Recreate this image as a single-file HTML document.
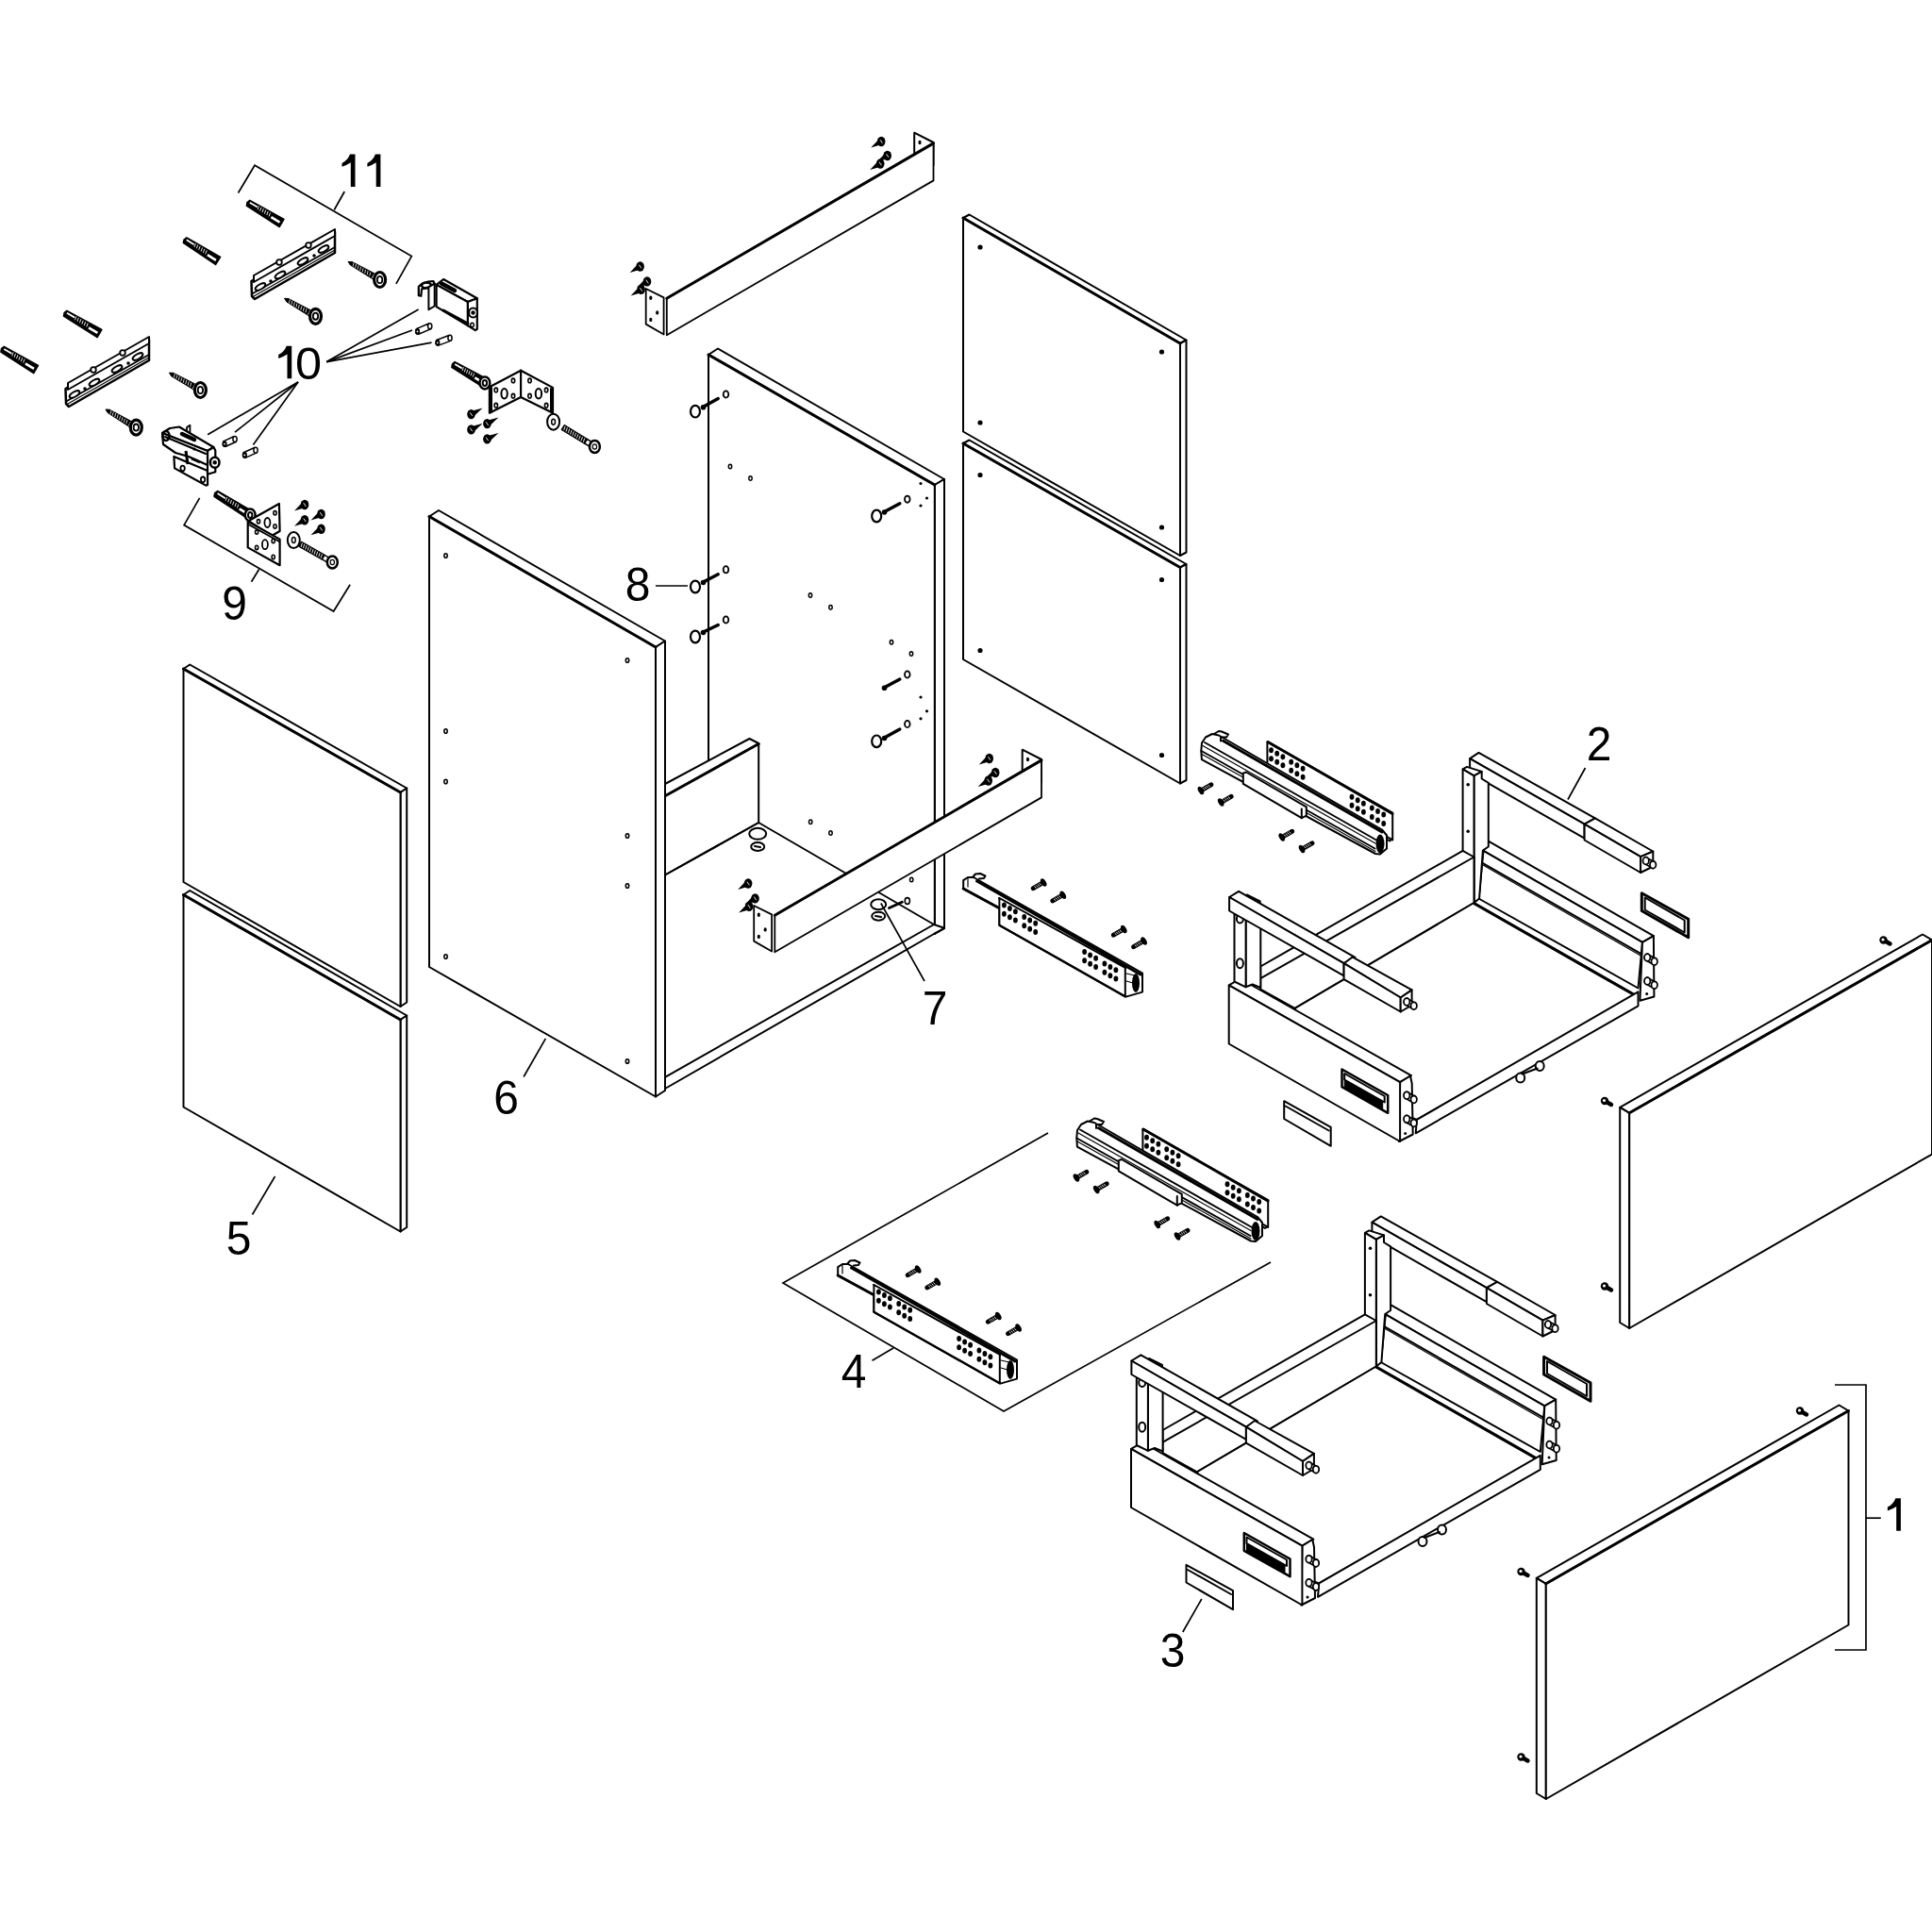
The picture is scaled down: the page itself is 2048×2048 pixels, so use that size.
<!DOCTYPE html>
<html><head><meta charset="utf-8"><style>
html,body{margin:0;padding:0;background:#fff;width:2048px;height:2048px;overflow:hidden}
svg{display:block}
.l{stroke:#000;stroke-width:2;fill:none;stroke-linejoin:round;stroke-linecap:round}
.l1{stroke:#000;stroke-width:1.2;fill:none;stroke-linecap:round}
.ld{stroke:#000;stroke-width:1.7;fill:none;stroke-linecap:butt}
.l3{stroke:#000;stroke-width:3;fill:none;stroke-linecap:round}
.f{fill:#fff;stroke:#000;stroke-width:2;stroke-linejoin:round}
.k{fill:#000;stroke:#000;stroke-width:1}
text{font-family:"Liberation Sans",sans-serif;font-size:50.5px;fill:#000}
</style></head><body>
<svg width="2048" height="2048" viewBox="0 0 2048 2048">
<polygon class="f" points="194.5,709.0 201.2,704.5 431.2,835.5 424.5,840.0" /><polygon class="f" points="424.5,840.0 431.2,835.5 431.2,1062.5 424.5,1067.0" /><polygon class="f" points="194.5,709.0 424.5,840.0 424.5,1067.0 194.5,935.0" /><line class="l3" x1="194.5" y1="709.0" x2="424.5" y2="840.0" />
<polygon class="f" points="194.5,948.5 201.2,944.0 431.2,1076.5 424.5,1081.0" /><polygon class="f" points="424.5,1081.0 431.2,1076.5 431.2,1301.0 424.5,1305.5" /><polygon class="f" points="194.5,948.5 424.5,1081.0 424.5,1305.5 194.5,1173.5" /><line class="l3" x1="194.5" y1="948.5" x2="424.5" y2="1081.0" />
<polygon class="f" points="1021.0,231.0 1027.5,227.5 1257.5,360.5 1251.0,364.0" /><polygon class="f" points="1251.0,364.0 1257.5,360.5 1257.5,585.5 1251.0,589.0" /><polygon class="f" points="1021.0,231.0 1251.0,364.0 1251.0,589.0 1021.0,457.5" /><line class="l3" x1="1021.0" y1="231.0" x2="1251.0" y2="364.0" />
<polygon class="f" points="1021.0,470.0 1027.5,466.5 1257.5,598.0 1251.0,601.5" /><polygon class="f" points="1251.0,601.5 1257.5,598.0 1257.5,827.0 1251.0,830.5" /><polygon class="f" points="1021.0,470.0 1251.0,601.5 1251.0,830.5 1021.0,699.0" /><line class="l3" x1="1021.0" y1="470.0" x2="1251.0" y2="601.5" />
<circle cx="1039.0" cy="262.0" r="2.6" fill="#000"/>
<circle cx="1039.0" cy="503.5" r="2.6" fill="#000"/>
<circle cx="1231.5" cy="373.0" r="2.6" fill="#000"/>
<circle cx="1231.5" cy="614.5" r="2.6" fill="#000"/>
<circle cx="1039.0" cy="448.0" r="2.6" fill="#000"/>
<circle cx="1039.0" cy="689.5" r="2.6" fill="#000"/>
<circle cx="1231.5" cy="559.0" r="2.6" fill="#000"/>
<circle cx="1231.5" cy="800.5" r="2.6" fill="#000"/>
<polygon class="f" points="751.0,376.0 761.0,369.5 1001.0,508.0 990.8,514.0" />
<polygon class="f" points="990.8,514.0 1001.0,508.0 1001.0,984.0 990.8,990.0" />
<polygon class="f" points="751.0,376.0 990.8,514.0 990.8,990.0 751.0,842.0" style="stroke:none"/>
<polyline class="l" points="751.0,842.0 751.0,376.0 990.8,514.0 990.8,990.0" />
<line class="l3" x1="751.0" y1="376.0" x2="990.8" y2="514.0" />
<polygon class="f" points="705.0,831.0 794.5,783.0 804.2,788.0 804.2,872.0 705.0,927.5" />
<line class="l3" x1="705.0" y1="843.8" x2="804.2" y2="788.5" />
<polyline class="l" points="705.0,927.5 804.2,872.0 990.0,980.0" />
<polygon class="f" points="705.0,1141.8 990.0,980.0 1001.0,983.8 1001.0,984.0 990.0,990.0 705.0,1154.0" />
<polygon class="f" points="455.0,547.5 465.0,541.0 705.0,679.5 695.0,686.0" /><polygon class="f" points="695.0,686.0 705.0,679.5 705.0,1156.0 695.0,1162.5" /><polygon class="f" points="455.0,547.5 695.0,686.0 695.0,1162.5 455.0,1025.0" /><line class="l3" x1="455.0" y1="547.5" x2="695.0" y2="686.0" />
<ellipse class="l" cx="737.0" cy="436.2" rx="5.0" ry="6.3" style="stroke-width:2.2"/>
<ellipse class="l" cx="737.0" cy="622.0" rx="5.0" ry="6.3" style="stroke-width:2.2"/>
<ellipse class="l" cx="737.0" cy="675.0" rx="5.0" ry="6.3" style="stroke-width:2.2"/>
<ellipse class="l" cx="929.2" cy="547.0" rx="5.0" ry="6.3" style="stroke-width:2.2"/>
<ellipse class="l" cx="929.2" cy="785.8" rx="5.0" ry="6.3" style="stroke-width:2.2"/>
<line x1="745.5" y1="431.2" x2="761.2" y2="422.5" stroke="#000" stroke-width="3.5" stroke-linecap="round"/>
<circle cx="745.5" cy="431.8" r="2.8" fill="#000"/>
<line x1="745.5" y1="617.0" x2="761.2" y2="608.8" stroke="#000" stroke-width="3.5" stroke-linecap="round"/>
<circle cx="745.5" cy="617.5" r="2.8" fill="#000"/>
<line x1="745.5" y1="670.0" x2="761.2" y2="662.5" stroke="#000" stroke-width="3.5" stroke-linecap="round"/>
<circle cx="745.5" cy="670.5" r="2.8" fill="#000"/>
<line x1="937.5" y1="542.5" x2="953.8" y2="533.8" stroke="#000" stroke-width="3.5" stroke-linecap="round"/>
<circle cx="937.5" cy="543.0" r="2.8" fill="#000"/>
<line x1="937.5" y1="728.8" x2="953.8" y2="720.0" stroke="#000" stroke-width="3.5" stroke-linecap="round"/>
<circle cx="937.5" cy="729.2" r="2.8" fill="#000"/>
<line x1="937.5" y1="782.0" x2="953.8" y2="773.0" stroke="#000" stroke-width="3.5" stroke-linecap="round"/>
<circle cx="937.5" cy="782.5" r="2.8" fill="#000"/>
<ellipse class="l" cx="769.5" cy="418.0" rx="2.8" ry="3.6" style="stroke-width:1.8"/>
<ellipse class="l" cx="769.5" cy="603.8" rx="2.8" ry="3.6" style="stroke-width:1.8"/>
<ellipse class="l" cx="769.5" cy="657.0" rx="2.8" ry="3.6" style="stroke-width:1.8"/>
<ellipse class="l" cx="961.8" cy="529.2" rx="2.8" ry="3.6" style="stroke-width:1.8"/>
<ellipse class="l" cx="961.8" cy="715.0" rx="2.8" ry="3.6" style="stroke-width:1.8"/>
<ellipse class="l" cx="961.8" cy="767.5" rx="2.8" ry="3.6" style="stroke-width:1.8"/>
<circle cx="976.0" cy="512.5" r="1.6" fill="#000"/>
<circle cx="982.5" cy="528.0" r="1.6" fill="#000"/>
<circle cx="976.0" cy="536.0" r="1.6" fill="#000"/>
<circle cx="976.0" cy="739.0" r="1.6" fill="#000"/>
<circle cx="982.5" cy="753.8" r="1.6" fill="#000"/>
<circle cx="976.0" cy="761.8" r="1.6" fill="#000"/>
<ellipse class="l" cx="774.0" cy="494.5" rx="1.7" ry="2.3" style="stroke-width:1.5"/>
<ellipse class="l" cx="795.5" cy="507.0" rx="1.7" ry="2.3" style="stroke-width:1.5"/>
<ellipse class="l" cx="859.0" cy="631.0" rx="1.7" ry="2.3" style="stroke-width:1.5"/>
<ellipse class="l" cx="880.5" cy="643.8" rx="1.7" ry="2.3" style="stroke-width:1.5"/>
<ellipse class="l" cx="945.0" cy="680.8" rx="1.7" ry="2.3" style="stroke-width:1.5"/>
<ellipse class="l" cx="966.0" cy="693.0" rx="1.7" ry="2.3" style="stroke-width:1.5"/>
<ellipse class="l" cx="859.2" cy="871.2" rx="1.7" ry="2.3" style="stroke-width:1.5"/>
<ellipse class="l" cx="880.5" cy="883.0" rx="1.7" ry="2.3" style="stroke-width:1.5"/>
<ellipse class="l" cx="966.2" cy="932.5" rx="1.7" ry="2.3" style="stroke-width:1.5"/>
<ellipse class="l" cx="803.2" cy="883.8" rx="9.0" ry="6.0" style="stroke-width:2"/>
<ellipse class="l" cx="803.2" cy="897.5" rx="7.0" ry="4.5" style="stroke-width:2"/>
<line class="l" x1="800.0" y1="897.0" x2="806.0" y2="898.0" />
<ellipse class="l" cx="931.2" cy="958.8" rx="8.0" ry="5.5" style="stroke-width:2"/>
<ellipse class="l" cx="931.2" cy="971.2" rx="7.0" ry="4.5" style="stroke-width:2"/>
<line class="l" x1="928.0" y1="971.0" x2="934.0" y2="972.0" />
<line x1="942.5" y1="962.5" x2="956.25" y2="956.25" stroke="#000" stroke-width="3" stroke-linecap="round"/>
<ellipse class="l" cx="961.8" cy="955.0" rx="2.6" ry="3.4" style="stroke-width:1.6"/>
<ellipse class="l" cx="472.5" cy="589.0" rx="1.7" ry="2.3" style="stroke-width:1.6"/>
<ellipse class="l" cx="665.0" cy="700.0" rx="1.7" ry="2.3" style="stroke-width:1.6"/>
<ellipse class="l" cx="472.5" cy="775.0" rx="1.7" ry="2.3" style="stroke-width:1.6"/>
<ellipse class="l" cx="472.5" cy="828.5" rx="1.7" ry="2.3" style="stroke-width:1.6"/>
<ellipse class="l" cx="665.0" cy="886.0" rx="1.7" ry="2.3" style="stroke-width:1.6"/>
<ellipse class="l" cx="665.0" cy="939.0" rx="1.7" ry="2.3" style="stroke-width:1.6"/>
<ellipse class="l" cx="472.5" cy="1014.0" rx="1.7" ry="2.3" style="stroke-width:1.6"/>
<ellipse class="l" cx="665.0" cy="1125.0" rx="1.7" ry="2.3" style="stroke-width:1.6"/>
<polygon class="f" points="969.2,140.7 989.5,151.0 989.5,175.0 969.2,163.2" /><polygon class="f" points="684.7,306.0 703.6,315.4 703.6,354.5 684.7,343.6" style="stroke-width:1.8"/><polygon class="f" points="706.8,316.2 989.5,151.9 989.5,191.4 706.8,355.2" style="stroke-width:1.8"/><line class="l3" x1="706.8" y1="316.2" x2="989.5" y2="151.9" /><ellipse cx="689.8" cy="315.8" rx="1.6" ry="2.2" fill="#000"/><ellipse cx="696.7" cy="331.4" rx="1.6" ry="2.2" fill="#000"/><ellipse cx="689.8" cy="338.9" rx="1.6" ry="2.2" fill="#000"/><ellipse cx="975.0" cy="151.0" rx="1.6" ry="2.2" fill="#000"/>
<polygon points="679.6,285.5 667.6,289.0 676.6,279.5" fill="#000"/><ellipse cx="678.6" cy="282.5" rx="4.3" ry="5.2" fill="#000"/><line x1="677.4" y1="280.7" x2="679.8" y2="284.3" stroke="#fff" stroke-width="0.9"/><polygon points="687.0,301.4 675.0,304.9 684.0,295.4" fill="#000"/><ellipse cx="686.0" cy="298.4" rx="4.3" ry="5.2" fill="#000"/><line x1="684.8" y1="296.6" x2="687.2" y2="300.2" stroke="#fff" stroke-width="0.9"/><polygon points="680.6,309.9 668.6,313.4 677.6,303.9" fill="#000"/><ellipse cx="679.6" cy="306.9" rx="4.3" ry="5.2" fill="#000"/><line x1="678.4" y1="305.1" x2="680.8" y2="308.7" stroke="#fff" stroke-width="0.9"/><polygon points="935.2,153.0 923.2,156.5 932.2,147.0" fill="#000"/><ellipse cx="934.2" cy="150.0" rx="4.3" ry="5.2" fill="#000"/><line x1="933.0" y1="148.2" x2="935.4" y2="151.8" stroke="#fff" stroke-width="0.9"/><polygon points="941.7,168.0 929.7,171.5 938.7,162.0" fill="#000"/><ellipse cx="940.7" cy="165.0" rx="4.3" ry="5.2" fill="#000"/><line x1="939.5" y1="163.2" x2="941.9" y2="166.8" stroke="#fff" stroke-width="0.9"/><polygon points="934.2,176.5 922.2,180.0 931.2,170.5" fill="#000"/><ellipse cx="933.2" cy="173.5" rx="4.3" ry="5.2" fill="#000"/><line x1="932.0" y1="171.7" x2="934.4" y2="175.3" stroke="#fff" stroke-width="0.9"/>
<polygon class="f" points="1083.7,794.7 1104.0,805.0 1104.0,829.0 1083.7,817.2" /><polygon class="f" points="799.2,960.0 818.1,969.4 818.1,1008.5 799.2,997.6" style="stroke-width:1.8"/><polygon class="f" points="821.3,970.2 1104.0,805.9 1104.0,845.4 821.3,1009.2" style="stroke-width:1.8"/><line class="l3" x1="821.3" y1="970.2" x2="1104.0" y2="805.9" /><ellipse cx="804.3" cy="969.8" rx="1.6" ry="2.2" fill="#000"/><ellipse cx="811.2" cy="985.4" rx="1.6" ry="2.2" fill="#000"/><ellipse cx="804.3" cy="992.9" rx="1.6" ry="2.2" fill="#000"/><ellipse cx="1089.5" cy="805.0" rx="1.6" ry="2.2" fill="#000"/>
<polygon points="794.1,939.5 782.1,943.0 791.1,933.5" fill="#000"/><ellipse cx="793.1" cy="936.5" rx="4.3" ry="5.2" fill="#000"/><line x1="791.9" y1="934.7" x2="794.3" y2="938.3" stroke="#fff" stroke-width="0.9"/><polygon points="801.5,955.4 789.5,958.9 798.5,949.4" fill="#000"/><ellipse cx="800.5" cy="952.4" rx="4.3" ry="5.2" fill="#000"/><line x1="799.3" y1="950.6" x2="801.7" y2="954.2" stroke="#fff" stroke-width="0.9"/><polygon points="795.1,963.9 783.1,967.4 792.1,957.9" fill="#000"/><ellipse cx="794.1" cy="960.9" rx="4.3" ry="5.2" fill="#000"/><line x1="792.9" y1="959.1" x2="795.3" y2="962.7" stroke="#fff" stroke-width="0.9"/><polygon points="1049.7,807.0 1037.7,810.5 1046.7,801.0" fill="#000"/><ellipse cx="1048.7" cy="804.0" rx="4.3" ry="5.2" fill="#000"/><line x1="1047.5" y1="802.2" x2="1049.9" y2="805.8" stroke="#fff" stroke-width="0.9"/><polygon points="1056.2,822.0 1044.2,825.5 1053.2,816.0" fill="#000"/><ellipse cx="1055.2" cy="819.0" rx="4.3" ry="5.2" fill="#000"/><line x1="1054.0" y1="817.2" x2="1056.4" y2="820.8" stroke="#fff" stroke-width="0.9"/><polygon points="1048.7,830.5 1036.7,834.0 1045.7,824.5" fill="#000"/><ellipse cx="1047.7" cy="827.5" rx="4.3" ry="5.2" fill="#000"/><line x1="1046.5" y1="825.7" x2="1048.9" y2="829.3" stroke="#fff" stroke-width="0.9"/>
<polygon class="k" points="264.8,212.3 262.0,214.5 261.4,218.1 296.2,240.5 301.0,232.3" style="stroke-width:1.5;stroke-linejoin:round"/><line x1="264.8" y1="214.8" x2="272.9" y2="219.6" stroke="#fff" stroke-width="1.8"/><line x1="287.4" y1="230.2" x2="296.5" y2="235.7" stroke="#fff" stroke-width="2.6"/><line x1="274.6" y1="218.4" x2="273.2" y2="222.3" stroke="#fff" stroke-width="0.9"/><line x1="277.0" y1="219.8" x2="275.6" y2="223.7" stroke="#fff" stroke-width="0.9"/><line x1="279.4" y1="221.2" x2="278.0" y2="225.1" stroke="#fff" stroke-width="0.9"/><line x1="281.7" y1="222.6" x2="280.4" y2="226.6" stroke="#fff" stroke-width="0.9"/><line x1="284.1" y1="224.1" x2="282.8" y2="228.0" stroke="#fff" stroke-width="0.9"/><line x1="286.5" y1="225.5" x2="285.1" y2="229.4" stroke="#fff" stroke-width="0.9"/>
<polygon class="k" points="197.9,251.8 195.0,254.0 194.3,257.5 228.5,280.5 233.5,272.5" style="stroke-width:1.5;stroke-linejoin:round"/><line x1="197.8" y1="254.3" x2="205.7" y2="259.3" stroke="#fff" stroke-width="1.8"/><line x1="219.9" y1="270.2" x2="228.9" y2="275.8" stroke="#fff" stroke-width="2.6"/><line x1="207.5" y1="258.1" x2="206.0" y2="262.0" stroke="#fff" stroke-width="0.9"/><line x1="209.8" y1="259.5" x2="208.4" y2="263.4" stroke="#fff" stroke-width="0.9"/><line x1="212.1" y1="261.0" x2="210.7" y2="264.9" stroke="#fff" stroke-width="0.9"/><line x1="214.5" y1="262.5" x2="213.1" y2="266.4" stroke="#fff" stroke-width="0.9"/><line x1="216.8" y1="263.9" x2="215.4" y2="267.8" stroke="#fff" stroke-width="0.9"/><line x1="219.2" y1="265.4" x2="217.7" y2="269.3" stroke="#fff" stroke-width="0.9"/>
<polygon class="f" points="266.5,298.0 355.0,246.0 355.0,268.0 270.0,317.0 267.0,314.0" style="stroke-width:2.5"/><polygon class="f" points="269.0,292.0 355.0,243.0 355.0,250.0 269.0,299.0" style="stroke-width:2"/><line class="l" x1="268.0" y1="311.0" x2="355.0" y2="262.0" /><line class="l1" x1="269.0" y1="314.0" x2="355.0" y2="265.0" /><ellipse cx="276.0" cy="304.0" rx="6" ry="2.6" transform="rotate(-30 276.0 304.0)" class="f" style="stroke-width:2"/><ellipse cx="297.0" cy="291.5" rx="6" ry="2.6" transform="rotate(-30 297.0 291.5)" class="f" style="stroke-width:2"/><ellipse cx="321.0" cy="277.0" rx="6" ry="2.6" transform="rotate(-30 321.0 277.0)" class="f" style="stroke-width:2"/><ellipse cx="343.0" cy="264.0" rx="6" ry="2.6" transform="rotate(-30 343.0 264.0)" class="f" style="stroke-width:2"/><circle cx="287.0" cy="298.0" r="1.8" fill="#000"/><circle cx="333.0" cy="271.0" r="1.8" fill="#000"/><ellipse class="f" cx="296.0" cy="278.0" rx="2.8" ry="2.8" style="stroke-width:1.8"/><ellipse class="f" cx="327.0" cy="260.0" rx="2.8" ry="2.8" style="stroke-width:1.8"/>
<polygon class="k" points="369.0,277.4 373.3,277.6 396.7,289.7 401.0,291.5 397.5,297.6 393.7,294.9 371.4,281.0" style="stroke-width:1"/><line x1="375.0" y1="278.5" x2="374.1" y2="282.6" stroke="#fff" stroke-width="0.8"/><line x1="377.5" y1="280.0" x2="376.6" y2="284.0" stroke="#fff" stroke-width="0.8"/><line x1="380.1" y1="281.4" x2="379.1" y2="285.4" stroke="#fff" stroke-width="0.8"/><line x1="382.6" y1="282.8" x2="381.6" y2="286.9" stroke="#fff" stroke-width="0.8"/><line x1="385.1" y1="284.3" x2="384.1" y2="288.3" stroke="#fff" stroke-width="0.8"/><line x1="387.6" y1="285.7" x2="386.7" y2="289.7" stroke="#fff" stroke-width="0.8"/><line x1="390.1" y1="287.1" x2="389.2" y2="291.2" stroke="#fff" stroke-width="0.8"/><line x1="392.7" y1="288.6" x2="391.7" y2="292.6" stroke="#fff" stroke-width="0.8"/><line x1="397.1" y1="290.5" x2="394.6" y2="294.9" stroke="#fff" stroke-width="1.4"/><ellipse class="f" cx="402.6" cy="296.5" rx="6.0" ry="8.0" style="stroke-width:3.2"/><ellipse class="l" cx="402.6" cy="296.5" rx="2.7" ry="3.6" style="stroke-width:1.8"/>
<polygon class="k" points="301.5,316.3 305.8,316.5 328.7,328.5 332.9,330.4 329.5,336.4 325.7,333.7 303.8,319.9" style="stroke-width:1"/><line x1="307.4" y1="317.4" x2="306.4" y2="321.5" stroke="#fff" stroke-width="0.8"/><line x1="309.9" y1="318.8" x2="308.9" y2="322.9" stroke="#fff" stroke-width="0.8"/><line x1="312.4" y1="320.3" x2="311.4" y2="324.3" stroke="#fff" stroke-width="0.8"/><line x1="314.9" y1="321.7" x2="313.9" y2="325.7" stroke="#fff" stroke-width="0.8"/><line x1="317.3" y1="323.1" x2="316.3" y2="327.2" stroke="#fff" stroke-width="0.8"/><line x1="319.8" y1="324.5" x2="318.8" y2="328.6" stroke="#fff" stroke-width="0.8"/><line x1="322.3" y1="326.0" x2="321.3" y2="330.0" stroke="#fff" stroke-width="0.8"/><line x1="324.8" y1="327.4" x2="323.8" y2="331.4" stroke="#fff" stroke-width="0.8"/><line x1="329.1" y1="329.3" x2="326.7" y2="333.7" stroke="#fff" stroke-width="1.4"/><ellipse class="f" cx="334.5" cy="335.3" rx="6.0" ry="8.0" style="stroke-width:3.2"/><ellipse class="l" cx="334.5" cy="335.3" rx="2.7" ry="3.6" style="stroke-width:1.8"/>
<polygon class="k" points="70.9,329.3 68.1,331.5 67.5,335.1 103.1,357.6 107.9,349.4" style="stroke-width:1.5;stroke-linejoin:round"/><line x1="71.0" y1="331.8" x2="79.2" y2="336.6" stroke="#fff" stroke-width="1.8"/><line x1="94.0" y1="347.3" x2="103.4" y2="352.8" stroke="#fff" stroke-width="2.6"/><line x1="80.9" y1="335.4" x2="79.6" y2="339.3" stroke="#fff" stroke-width="0.9"/><line x1="83.3" y1="336.8" x2="82.0" y2="340.7" stroke="#fff" stroke-width="0.9"/><line x1="85.8" y1="338.2" x2="84.5" y2="342.2" stroke="#fff" stroke-width="0.9"/><line x1="88.2" y1="339.7" x2="86.9" y2="343.6" stroke="#fff" stroke-width="0.9"/><line x1="90.6" y1="341.1" x2="89.3" y2="345.0" stroke="#fff" stroke-width="0.9"/><line x1="93.1" y1="342.5" x2="91.8" y2="346.5" stroke="#fff" stroke-width="0.9"/>
<polygon class="k" points="4.3,367.4 1.5,369.6 0.9,373.2 35.7,395.6 40.5,387.4" style="stroke-width:1.5;stroke-linejoin:round"/><line x1="4.3" y1="369.9" x2="12.4" y2="374.7" stroke="#fff" stroke-width="1.8"/><line x1="26.9" y1="385.3" x2="36.0" y2="390.8" stroke="#fff" stroke-width="2.6"/><line x1="14.1" y1="373.5" x2="12.7" y2="377.4" stroke="#fff" stroke-width="0.9"/><line x1="16.5" y1="374.9" x2="15.1" y2="378.8" stroke="#fff" stroke-width="0.9"/><line x1="18.9" y1="376.3" x2="17.5" y2="380.2" stroke="#fff" stroke-width="0.9"/><line x1="21.2" y1="377.7" x2="19.9" y2="381.7" stroke="#fff" stroke-width="0.9"/><line x1="23.6" y1="379.2" x2="22.3" y2="383.1" stroke="#fff" stroke-width="0.9"/><line x1="26.0" y1="380.6" x2="24.6" y2="384.5" stroke="#fff" stroke-width="0.9"/>
<polygon class="f" points="69.5,412.0 158.0,360.0 158.0,382.0 73.0,431.0 70.0,428.0" style="stroke-width:2.5"/><polygon class="f" points="72.0,406.0 158.0,357.0 158.0,364.0 72.0,413.0" style="stroke-width:2"/><line class="l" x1="71.0" y1="425.0" x2="158.0" y2="376.0" /><line class="l1" x1="72.0" y1="428.0" x2="158.0" y2="379.0" /><ellipse cx="79.0" cy="418.0" rx="6" ry="2.6" transform="rotate(-30 79.0 418.0)" class="f" style="stroke-width:2"/><ellipse cx="100.0" cy="405.5" rx="6" ry="2.6" transform="rotate(-30 100.0 405.5)" class="f" style="stroke-width:2"/><ellipse cx="124.0" cy="391.0" rx="6" ry="2.6" transform="rotate(-30 124.0 391.0)" class="f" style="stroke-width:2"/><ellipse cx="146.0" cy="378.0" rx="6" ry="2.6" transform="rotate(-30 146.0 378.0)" class="f" style="stroke-width:2"/><circle cx="90.0" cy="412.0" r="1.8" fill="#000"/><circle cx="136.0" cy="385.0" r="1.8" fill="#000"/><ellipse class="f" cx="99.0" cy="392.0" rx="2.8" ry="2.8" style="stroke-width:1.8"/><ellipse class="f" cx="130.0" cy="374.0" rx="2.8" ry="2.8" style="stroke-width:1.8"/>
<polygon class="k" points="179.4,395.2 183.7,395.3 206.6,406.9 210.8,408.6 207.4,414.7 203.7,412.1 181.7,398.8" style="stroke-width:1"/><line x1="185.3" y1="396.2" x2="184.4" y2="400.2" stroke="#fff" stroke-width="0.8"/><line x1="187.8" y1="397.6" x2="186.8" y2="401.6" stroke="#fff" stroke-width="0.8"/><line x1="190.3" y1="398.9" x2="189.3" y2="403.0" stroke="#fff" stroke-width="0.8"/><line x1="192.7" y1="400.3" x2="191.8" y2="404.4" stroke="#fff" stroke-width="0.8"/><line x1="195.2" y1="401.7" x2="194.3" y2="405.7" stroke="#fff" stroke-width="0.8"/><line x1="197.7" y1="403.1" x2="196.7" y2="407.1" stroke="#fff" stroke-width="0.8"/><line x1="200.2" y1="404.4" x2="199.2" y2="408.5" stroke="#fff" stroke-width="0.8"/><line x1="202.6" y1="405.8" x2="201.7" y2="409.9" stroke="#fff" stroke-width="0.8"/><line x1="207.0" y1="407.7" x2="204.6" y2="412.0" stroke="#fff" stroke-width="1.4"/><ellipse class="f" cx="212.4" cy="413.5" rx="6.0" ry="8.0" style="stroke-width:3.2"/><ellipse class="l" cx="212.4" cy="413.5" rx="2.7" ry="3.6" style="stroke-width:1.8"/>
<polygon class="k" points="112.0,434.0 116.2,434.2 138.7,446.3 142.9,448.2 139.3,454.2 135.7,451.5 114.2,437.6" style="stroke-width:1"/><line x1="117.9" y1="435.1" x2="116.8" y2="439.2" stroke="#fff" stroke-width="0.8"/><line x1="120.3" y1="436.6" x2="119.2" y2="440.6" stroke="#fff" stroke-width="0.8"/><line x1="122.7" y1="438.0" x2="121.6" y2="442.0" stroke="#fff" stroke-width="0.8"/><line x1="125.1" y1="439.4" x2="124.1" y2="443.5" stroke="#fff" stroke-width="0.8"/><line x1="127.6" y1="440.9" x2="126.5" y2="444.9" stroke="#fff" stroke-width="0.8"/><line x1="130.0" y1="442.3" x2="128.9" y2="446.3" stroke="#fff" stroke-width="0.8"/><line x1="132.4" y1="443.7" x2="131.3" y2="447.8" stroke="#fff" stroke-width="0.8"/><line x1="134.8" y1="445.2" x2="133.8" y2="449.2" stroke="#fff" stroke-width="0.8"/><line x1="139.1" y1="447.1" x2="136.6" y2="451.4" stroke="#fff" stroke-width="1.4"/><ellipse class="f" cx="144.3" cy="453.1" rx="6.0" ry="8.0" style="stroke-width:3.2"/><ellipse class="l" cx="144.3" cy="453.1" rx="2.7" ry="3.6" style="stroke-width:1.8"/>
<polygon class="f" points="443.8,303.8 443.8,313.2 446.3,313.8 447.0,306.5 454.4,304.4 460.7,300.7 459.4,298.0 453.8,298.5 447.0,301.0" style="stroke-width:2.2"/><ellipse class="l" cx="452.0" cy="302.5" rx="5.0" ry="3.0" style="stroke-width:2.5"/><polygon class="f" points="454.4,304.4 460.7,300.7 460.7,324.5 454.4,328.2" style="stroke-width:2"/><polygon class="f" points="462.6,301.9 470.1,296.0 505.8,316.3 495.8,320.0" style="stroke-width:2.2"/><polygon class="f" points="495.8,320.0 505.8,316.3 505.8,348.9 503.9,350.1 495.8,345.1" style="stroke-width:2.2"/><polygon class="f" points="462.6,301.9 495.8,320.0 495.8,345.1 462.6,325.1" style="stroke-width:2.2"/><line x1="468" y1="300.5" x2="482" y2="308" stroke="#000" stroke-width="4.5" stroke-linecap="round"/><line class="l3" x1="470.0" y1="329.0" x2="496.0" y2="343.0" /><ellipse class="f" cx="501.5" cy="331.5" rx="4.5" ry="5.0" style="stroke-width:2.2"/><circle cx="501.5" cy="331.5" r="2.2" fill="#000"/><ellipse class="l" cx="500.5" cy="344.5" rx="1.8" ry="2.2" style="stroke-width:1.4"/>
<polygon class="f" points="198.0,453.0 201.4,450.8 201.4,460.0 198.0,462.0" style="stroke-width:1.8"/><polygon class="f" points="184.4,483.9 220.0,499.0 220.1,514.0 218.3,514.6 185.1,496.4" style="stroke-width:2.2"/><ellipse class="l" cx="193.6" cy="496.4" rx="2.2" ry="2.8" style="stroke-width:1.8"/><ellipse class="l" cx="215.1" cy="508.3" rx="2.2" ry="2.8" style="stroke-width:1.8"/><polygon class="f" points="172.0,459.0 180.0,454.0 190.0,452.5 226.4,474.0 220.0,478.0" style="stroke-width:2.2"/><polygon class="f" points="220.0,478.0 226.4,474.0 228.3,477.6 228.3,500.2 220.0,502.7" style="stroke-width:2.2"/><polygon class="f" points="172.0,459.0 220.0,478.0 220.0,493.0 200.0,484.0 186.0,480.0 173.0,471.0" style="stroke-width:2.2"/><line x1="193" y1="460" x2="206" y2="466" stroke="#000" stroke-width="4.5" stroke-linecap="round"/><line class="l" x1="175.0" y1="463.0" x2="218.0" y2="481.0" /><line x1="197" y1="478" x2="199" y2="492" stroke="#000" stroke-width="3"/><line x1="203" y1="486" x2="212" y2="490" stroke="#000" stroke-width="3"/><ellipse class="l" cx="176.0" cy="462.0" rx="3.5" ry="5.0" style="stroke-width:2.5"/><ellipse class="f" cx="227.7" cy="490.2" rx="4.8" ry="5.5" style="stroke-width:2.5"/><circle cx="227.7" cy="490.2" r="2.2" fill="#000"/><circle cx="206.0" cy="476.0" r="1.6" fill="#000"/>
<polygon class="f" points="443.7,354.2 456.9,348.6 454.5,343.0 441.3,348.6" style="stroke-width:1.5"/><ellipse class="f" cx="455.7" cy="345.8" rx="2.1" ry="3.0" style="stroke-width:1.5"/><ellipse class="k" cx="442.5" cy="351.4" rx="2.2" ry="3.2" style="stroke-width:1"/><circle cx="442.5" cy="351.4" r="0.9" fill="#fff"/>
<polygon class="f" points="464.9,366.1 478.1,361.1 475.9,355.5 462.7,360.5" style="stroke-width:1.5"/><ellipse class="f" cx="477.0" cy="358.3" rx="2.1" ry="3.0" style="stroke-width:1.5"/><ellipse class="k" cx="463.8" cy="363.3" rx="2.2" ry="3.2" style="stroke-width:1"/><circle cx="463.8" cy="363.3" r="0.9" fill="#fff"/>
<polygon class="f" points="239.3,473.3 250.3,468.2 247.7,462.8 236.7,467.9" style="stroke-width:1.5"/><ellipse class="f" cx="249.0" cy="465.5" rx="2.1" ry="3.0" style="stroke-width:1.5"/><ellipse class="k" cx="238.0" cy="470.6" rx="2.2" ry="3.2" style="stroke-width:1"/><circle cx="238.0" cy="470.6" r="0.9" fill="#fff"/>
<polygon class="f" points="260.5,485.1 272.2,479.9 269.8,474.5 258.1,479.7" style="stroke-width:1.5"/><ellipse class="f" cx="271.0" cy="477.2" rx="2.1" ry="3.0" style="stroke-width:1.5"/><ellipse class="k" cx="259.3" cy="482.4" rx="2.2" ry="3.2" style="stroke-width:1"/><circle cx="259.3" cy="482.4" r="0.9" fill="#fff"/>
<polygon class="k" points="230.6,520.5 227.7,522.7 227.0,526.3 262.7,549.9 267.7,541.9" style="stroke-width:1.5;stroke-linejoin:round"/><line x1="230.6" y1="523.1" x2="238.8" y2="528.2" stroke="#fff" stroke-width="1.8"/><line x1="253.7" y1="539.3" x2="263.1" y2="545.1" stroke="#fff" stroke-width="2.6"/><line x1="240.6" y1="527.0" x2="239.2" y2="530.9" stroke="#fff" stroke-width="0.9"/><line x1="243.0" y1="528.5" x2="241.7" y2="532.4" stroke="#fff" stroke-width="0.9"/><line x1="245.5" y1="530.0" x2="244.1" y2="533.9" stroke="#fff" stroke-width="0.9"/><line x1="247.9" y1="531.5" x2="246.5" y2="535.4" stroke="#fff" stroke-width="0.9"/><line x1="250.4" y1="533.0" x2="249.0" y2="536.9" stroke="#fff" stroke-width="0.9"/><line x1="252.8" y1="534.5" x2="251.4" y2="538.4" stroke="#fff" stroke-width="0.9"/><ellipse class="f" cx="265.2" cy="545.9" rx="5.4" ry="6.5" style="stroke-width:2.5"/><ellipse class="l" cx="265.2" cy="545.9" rx="2.2" ry="3.0" />
<polygon class="f" points="263.4,552.2 295.9,534.0 296.6,563.0 288.0,568.0" style="stroke-width:2.2"/><polygon class="f" points="262.7,552.8 296.6,571.6 296.6,599.2 262.7,580.4" style="stroke-width:2.2"/><line class="l" x1="263.5" y1="556.0" x2="296.0" y2="574.0" /><ellipse class="l" cx="280.9" cy="577.2" rx="3.0" ry="5.0" style="stroke-width:1.8"/><ellipse class="l" cx="283.4" cy="554.0" rx="3.0" ry="5.0" style="stroke-width:1.8"/><ellipse class="l" cx="272.1" cy="564.1" rx="1.6" ry="2.2" style="stroke-width:1.6"/><ellipse class="l" cx="289.7" cy="573.5" rx="1.6" ry="2.2" style="stroke-width:1.6"/><ellipse class="l" cx="272.1" cy="580.4" rx="1.6" ry="2.2" style="stroke-width:1.6"/><ellipse class="l" cx="289.7" cy="590.4" rx="1.6" ry="2.2" style="stroke-width:1.6"/><ellipse class="l" cx="291.5" cy="543.8" rx="1.6" ry="2.2" style="stroke-width:1.6"/><ellipse class="l" cx="291.5" cy="558.0" rx="1.6" ry="2.2" style="stroke-width:1.6"/><ellipse class="l" cx="274.0" cy="552.8" rx="1.6" ry="2.2" style="stroke-width:1.6"/>
<ellipse class="f" cx="311.3" cy="572.6" rx="6.5" ry="8.5" style="stroke-width:2"/><ellipse class="l" cx="311.3" cy="572.6" rx="1.9" ry="3.0" style="stroke-width:1.5"/>
<polygon class="k" points="319.4,574.0 344.1,588.0 341.2,593.2 316.4,579.2" style="stroke-width:1"/><line x1="320.4" y1="575.5" x2="319.1" y2="579.8" stroke="#fff" stroke-width="0.9"/><line x1="322.7" y1="576.8" x2="321.4" y2="581.1" stroke="#fff" stroke-width="0.9"/><line x1="325.0" y1="578.1" x2="323.7" y2="582.4" stroke="#fff" stroke-width="0.9"/><line x1="327.4" y1="579.4" x2="326.1" y2="583.7" stroke="#fff" stroke-width="0.9"/><line x1="329.7" y1="580.7" x2="328.4" y2="585.1" stroke="#fff" stroke-width="0.9"/><line x1="332.1" y1="582.1" x2="330.8" y2="586.4" stroke="#fff" stroke-width="0.9"/><line x1="334.4" y1="583.4" x2="333.1" y2="587.7" stroke="#fff" stroke-width="0.9"/><line x1="336.7" y1="584.7" x2="335.4" y2="589.0" stroke="#fff" stroke-width="0.9"/><line x1="339.1" y1="586.0" x2="337.8" y2="590.3" stroke="#fff" stroke-width="0.9"/><line x1="341.4" y1="587.3" x2="340.1" y2="591.7" stroke="#fff" stroke-width="0.9"/><polygon class="f" points="343.9,588.3 350.1,591.8 347.6,596.3 341.4,592.8" style="stroke-width:1.5"/><ellipse class="f" cx="352.3" cy="596.0" rx="5.5" ry="6.5" style="stroke-width:2.5"/><ellipse class="l" cx="352.3" cy="596.0" rx="2.2" ry="2.6" style="stroke-width:1.2"/>
<polygon points="324.0,538.0 312.0,541.5 321.0,532.0" fill="#000"/><ellipse cx="323.0" cy="535.0" rx="4.3" ry="5.2" fill="#000"/><line x1="321.8" y1="533.2" x2="324.2" y2="536.8" stroke="#fff" stroke-width="0.9"/>
<polygon points="341.5,548.0 329.5,551.5 338.5,542.0" fill="#000"/><ellipse cx="340.5" cy="545.0" rx="4.3" ry="5.2" fill="#000"/><line x1="339.3" y1="543.2" x2="341.7" y2="546.8" stroke="#fff" stroke-width="0.9"/>
<polygon points="324.0,554.3 312.0,557.8 321.0,548.3" fill="#000"/><ellipse cx="323.0" cy="551.3" rx="4.3" ry="5.2" fill="#000"/><line x1="321.8" y1="549.5" x2="324.2" y2="553.1" stroke="#fff" stroke-width="0.9"/>
<polygon points="341.5,563.7 329.5,567.2 338.5,557.7" fill="#000"/><ellipse cx="340.5" cy="560.7" rx="4.3" ry="5.2" fill="#000"/><line x1="339.3" y1="558.9" x2="341.7" y2="562.5" stroke="#fff" stroke-width="0.9"/>
<polygon class="k" points="482.2,383.6 479.5,385.9 478.8,389.4 511.5,410.0 516.3,401.8" style="stroke-width:1.5;stroke-linejoin:round"/><line x1="482.2" y1="386.0" x2="489.7" y2="390.4" stroke="#fff" stroke-width="1.8"/><line x1="503.3" y1="400.3" x2="511.9" y2="405.3" stroke="#fff" stroke-width="2.6"/><line x1="491.4" y1="389.2" x2="490.1" y2="393.1" stroke="#fff" stroke-width="0.9"/><line x1="493.6" y1="390.5" x2="492.3" y2="394.4" stroke="#fff" stroke-width="0.9"/><line x1="495.9" y1="391.8" x2="494.5" y2="395.7" stroke="#fff" stroke-width="0.9"/><line x1="498.1" y1="393.1" x2="496.8" y2="397.0" stroke="#fff" stroke-width="0.9"/><line x1="500.3" y1="394.4" x2="499.0" y2="398.3" stroke="#fff" stroke-width="0.9"/><line x1="502.6" y1="395.7" x2="501.2" y2="399.6" stroke="#fff" stroke-width="0.9"/><ellipse class="f" cx="513.9" cy="405.9" rx="5.4" ry="6.5" style="stroke-width:2.5"/><ellipse class="l" cx="513.9" cy="405.9" rx="2.2" ry="3.0" />
<polygon class="f" points="518.9,410.3 552.1,392.7 552.1,420.9 518.9,437.8" style="stroke-width:2.2"/><polygon class="f" points="552.1,392.7 586.0,410.9 586.0,437.8 552.1,420.9" style="stroke-width:2.2"/><line class="l" x1="521.0" y1="411.0" x2="521.0" y2="437.0" /><line class="l" x1="584.0" y1="412.0" x2="584.0" y2="436.0" /><ellipse class="l" cx="534.6" cy="417.2" rx="3.2" ry="5.2" style="stroke-width:2"/><ellipse class="l" cx="570.9" cy="417.2" rx="3.2" ry="5.2" style="stroke-width:2"/><ellipse class="l" cx="525.8" cy="413.4" rx="1.7" ry="2.3" style="stroke-width:1.6"/><ellipse class="l" cx="544.0" cy="403.4" rx="1.7" ry="2.3" style="stroke-width:1.6"/><ellipse class="l" cx="544.0" cy="419.7" rx="1.7" ry="2.3" style="stroke-width:1.6"/><ellipse class="l" cx="525.8" cy="429.7" rx="1.7" ry="2.3" style="stroke-width:1.6"/><ellipse class="l" cx="561.5" cy="403.4" rx="1.7" ry="2.3" style="stroke-width:1.6"/><ellipse class="l" cx="579.1" cy="413.4" rx="1.7" ry="2.3" style="stroke-width:1.6"/><ellipse class="l" cx="561.5" cy="419.7" rx="1.7" ry="2.3" style="stroke-width:1.6"/><ellipse class="l" cx="579.1" cy="429.7" rx="1.7" ry="2.3" style="stroke-width:1.6"/>
<ellipse class="f" cx="586.6" cy="447.2" rx="6.5" ry="8.5" style="stroke-width:2"/><ellipse class="l" cx="586.6" cy="447.2" rx="1.9" ry="3.0" style="stroke-width:1.5"/>
<polygon class="k" points="598.2,450.3 622.5,465.2 619.4,470.3 595.0,455.5" style="stroke-width:1"/><line x1="599.1" y1="451.8" x2="597.7" y2="456.1" stroke="#fff" stroke-width="0.9"/><line x1="601.4" y1="453.2" x2="600.0" y2="457.5" stroke="#fff" stroke-width="0.9"/><line x1="603.7" y1="454.6" x2="602.2" y2="458.9" stroke="#fff" stroke-width="0.9"/><line x1="606.0" y1="456.0" x2="604.5" y2="460.3" stroke="#fff" stroke-width="0.9"/><line x1="608.3" y1="457.4" x2="606.8" y2="461.7" stroke="#fff" stroke-width="0.9"/><line x1="610.6" y1="458.8" x2="609.1" y2="463.1" stroke="#fff" stroke-width="0.9"/><line x1="612.9" y1="460.3" x2="611.4" y2="464.5" stroke="#fff" stroke-width="0.9"/><line x1="615.2" y1="461.7" x2="613.7" y2="465.9" stroke="#fff" stroke-width="0.9"/><line x1="617.5" y1="463.1" x2="616.0" y2="467.3" stroke="#fff" stroke-width="0.9"/><line x1="619.8" y1="464.5" x2="618.3" y2="468.7" stroke="#fff" stroke-width="0.9"/><polygon class="f" points="622.3,465.5 628.4,469.2 625.7,473.7 619.6,470.0" style="stroke-width:1.5"/><ellipse class="f" cx="630.4" cy="473.5" rx="5.5" ry="6.5" style="stroke-width:2.5"/><ellipse class="l" cx="630.4" cy="473.5" rx="2.2" ry="2.6" style="stroke-width:1.2"/>
<polygon points="498.5,436.1 511.5,432.6 501.5,442.1" fill="#000"/><ellipse cx="499.5" cy="439.1" rx="4.3" ry="5.2" fill="#000"/><line x1="498.3" y1="437.3" x2="500.7" y2="440.9" stroke="#fff" stroke-width="0.9"/>
<polygon points="515.4,446.1 528.4,442.6 518.4,452.1" fill="#000"/><ellipse cx="516.4" cy="449.1" rx="4.3" ry="5.2" fill="#000"/><line x1="515.2" y1="447.3" x2="517.6" y2="450.9" stroke="#fff" stroke-width="0.9"/>
<polygon points="498.5,452.4 511.5,448.9 501.5,458.4" fill="#000"/><ellipse cx="499.5" cy="455.4" rx="4.3" ry="5.2" fill="#000"/><line x1="498.3" y1="453.6" x2="500.7" y2="457.2" stroke="#fff" stroke-width="0.9"/>
<polygon points="515.4,462.4 528.4,458.9 518.4,468.4" fill="#000"/><ellipse cx="516.4" cy="465.4" rx="4.3" ry="5.2" fill="#000"/><line x1="515.2" y1="463.6" x2="517.6" y2="467.2" stroke="#fff" stroke-width="0.9"/>
<polyline class="ld" points="252.5,204.5 270.0,175.2 436.3,271.6 419.9,300.9" />
<line class="ld" x1="354.3" y1="222.5" x2="365.2" y2="203.0" />
<polyline class="ld" points="211.6,527.8 195.1,556.6 353.6,648.0 371.1,619.8" />
<line class="ld" x1="274.6" y1="603.5" x2="266.5" y2="616.7" />
<line class="ld" x1="346.2" y1="383.6" x2="443.6" y2="328.0" />
<line class="ld" x1="346.2" y1="383.6" x2="437.0" y2="350.0" />
<line class="ld" x1="346.2" y1="383.6" x2="457.5" y2="363.1" />
<line class="ld" x1="316.0" y1="405.0" x2="220.1" y2="460.7" />
<line class="ld" x1="316.0" y1="405.0" x2="249.0" y2="458.2" />
<line class="ld" x1="316.0" y1="405.0" x2="268.4" y2="471.4" />
<polygon class="f" points="888.2,1343.2 893.0,1340.0 899.0,1340.0 1078.0,1441.5 1078.0,1461.6 1060.5,1466.6 926.4,1390.8 926.4,1372.7 888.2,1352.0" />
<line class="l3" x1="902.6" y1="1344.0" x2="1076.0" y2="1443.0" />
<line class="l" x1="926.0" y1="1362.0" x2="1060.0" y2="1437.0" />
<line class="l3" x1="888.2" y1="1352.0" x2="926.4" y2="1372.7" />
<line class="l1" x1="893.0" y1="1341.0" x2="893.0" y2="1350.0" />
<polyline class="l" points="898.0,1340.0 901.0,1336.5 906.0,1336.0 911.5,1338.5 910.0,1341.0 905.0,1341.5" />
<polygon class="f" points="926.4,1362.0 1059.8,1435.9 1059.8,1466.6 926.4,1390.8" />
<line class="l" x1="926.4" y1="1390.5" x2="1059.8" y2="1466.0" />
<ellipse cx="931.4" cy="1369.5" rx="2.4" ry="3" fill="#000"/>
<ellipse cx="931.4" cy="1378.8" rx="2.4" ry="3" fill="#000"/>
<ellipse cx="937.4" cy="1372.9" rx="2.4" ry="3" fill="#000"/>
<ellipse cx="937.4" cy="1382.2" rx="2.4" ry="3" fill="#000"/>
<ellipse cx="943.4" cy="1376.3" rx="2.4" ry="3" fill="#000"/>
<ellipse cx="943.4" cy="1385.6" rx="2.4" ry="3" fill="#000"/>
<ellipse cx="952.7" cy="1382.0" rx="2.4" ry="3" fill="#000"/>
<ellipse cx="952.7" cy="1391.3" rx="2.4" ry="3" fill="#000"/>
<ellipse cx="958.7" cy="1385.4" rx="2.4" ry="3" fill="#000"/>
<ellipse cx="958.7" cy="1394.7" rx="2.4" ry="3" fill="#000"/>
<ellipse cx="964.7" cy="1388.8" rx="2.4" ry="3" fill="#000"/>
<ellipse cx="964.7" cy="1398.1" rx="2.4" ry="3" fill="#000"/>
<ellipse cx="1016.6" cy="1419.0" rx="2.4" ry="3" fill="#000"/>
<ellipse cx="1016.6" cy="1428.3" rx="2.4" ry="3" fill="#000"/>
<ellipse cx="1022.6" cy="1422.4" rx="2.4" ry="3" fill="#000"/>
<ellipse cx="1022.6" cy="1431.7" rx="2.4" ry="3" fill="#000"/>
<ellipse cx="1028.6" cy="1425.8" rx="2.4" ry="3" fill="#000"/>
<ellipse cx="1028.6" cy="1435.1" rx="2.4" ry="3" fill="#000"/>
<ellipse cx="1037.9" cy="1431.5" rx="2.4" ry="3" fill="#000"/>
<ellipse cx="1037.9" cy="1440.8" rx="2.4" ry="3" fill="#000"/>
<ellipse cx="1043.9" cy="1434.9" rx="2.4" ry="3" fill="#000"/>
<ellipse cx="1043.9" cy="1444.2" rx="2.4" ry="3" fill="#000"/>
<ellipse cx="1049.9" cy="1438.3" rx="2.4" ry="3" fill="#000"/>
<ellipse cx="1049.9" cy="1447.6" rx="2.4" ry="3" fill="#000"/>
<ellipse cx="1071.0" cy="1452.0" rx="4" ry="10" fill="#000"/>
<line class="l1" x1="1061.0" y1="1442.0" x2="1070.0" y2="1444.0" />
<line class="l1" x1="1061.0" y1="1450.0" x2="1068.0" y2="1452.0" />
<line x1="972.7" y1="1345.7" x2="962.3" y2="1351.7" stroke="#000" stroke-width="5.0" stroke-linecap="round"/><ellipse cx="973.2" cy="1345.5" rx="2.6" ry="4.6" fill="#000" transform="rotate(150.0 973.2 1345.5)"/><line x1="970.9" y1="1348.4" x2="968.8" y2="1346.3" stroke="#fff" stroke-width="0.9"/><line x1="969.1" y1="1349.4" x2="967.0" y2="1347.4" stroke="#fff" stroke-width="0.9"/><line x1="967.3" y1="1350.5" x2="965.2" y2="1348.4" stroke="#fff" stroke-width="0.9"/><line x1="965.5" y1="1351.5" x2="963.4" y2="1349.5" stroke="#fff" stroke-width="0.9"/>
<line x1="993.3" y1="1358.9" x2="982.9" y2="1364.9" stroke="#000" stroke-width="5.0" stroke-linecap="round"/><ellipse cx="993.8" cy="1358.7" rx="2.6" ry="4.6" fill="#000" transform="rotate(150.0 993.8 1358.7)"/><line x1="991.5" y1="1361.6" x2="989.4" y2="1359.5" stroke="#fff" stroke-width="0.9"/><line x1="989.7" y1="1362.6" x2="987.6" y2="1360.6" stroke="#fff" stroke-width="0.9"/><line x1="987.9" y1="1363.7" x2="985.8" y2="1361.6" stroke="#fff" stroke-width="0.9"/><line x1="986.1" y1="1364.7" x2="984.0" y2="1362.7" stroke="#fff" stroke-width="0.9"/>
<line x1="1057.8" y1="1395.2" x2="1047.4" y2="1401.2" stroke="#000" stroke-width="5.0" stroke-linecap="round"/><ellipse cx="1058.3" cy="1395.0" rx="2.6" ry="4.6" fill="#000" transform="rotate(150.0 1058.3 1395.0)"/><line x1="1056.0" y1="1397.9" x2="1053.9" y2="1395.8" stroke="#fff" stroke-width="0.9"/><line x1="1054.2" y1="1398.9" x2="1052.1" y2="1396.9" stroke="#fff" stroke-width="0.9"/><line x1="1052.4" y1="1400.0" x2="1050.3" y2="1397.9" stroke="#fff" stroke-width="0.9"/><line x1="1050.6" y1="1401.0" x2="1048.5" y2="1399.0" stroke="#fff" stroke-width="0.9"/>
<line x1="1079.1" y1="1407.7" x2="1068.7" y2="1413.7" stroke="#000" stroke-width="5.0" stroke-linecap="round"/><ellipse cx="1079.6" cy="1407.5" rx="2.6" ry="4.6" fill="#000" transform="rotate(150.0 1079.6 1407.5)"/><line x1="1077.3" y1="1410.4" x2="1075.2" y2="1408.3" stroke="#fff" stroke-width="0.9"/><line x1="1075.5" y1="1411.4" x2="1073.4" y2="1409.4" stroke="#fff" stroke-width="0.9"/><line x1="1073.7" y1="1412.5" x2="1071.6" y2="1410.4" stroke="#fff" stroke-width="0.9"/><line x1="1071.9" y1="1413.5" x2="1069.8" y2="1411.5" stroke="#fff" stroke-width="0.9"/>
<polygon class="f" points="1021.2,933.2 1026.0,930.0 1032.0,930.0 1211.0,1031.5 1211.0,1051.6 1193.5,1056.6 1059.4,980.8 1059.4,962.7 1021.2,942.0" />
<line class="l3" x1="1035.6" y1="934.0" x2="1209.0" y2="1033.0" />
<line class="l" x1="1059.0" y1="952.0" x2="1193.0" y2="1027.0" />
<line class="l3" x1="1021.2" y1="942.0" x2="1059.4" y2="962.7" />
<line class="l1" x1="1026.0" y1="931.0" x2="1026.0" y2="940.0" />
<polyline class="l" points="1031.0,930.0 1034.0,926.5 1039.0,926.0 1044.5,928.5 1043.0,931.0 1038.0,931.5" />
<polygon class="f" points="1059.4,952.0 1192.8,1025.9 1192.8,1056.6 1059.4,980.8" />
<line class="l" x1="1059.4" y1="980.5" x2="1192.8" y2="1056.0" />
<ellipse cx="1064.4" cy="959.5" rx="2.4" ry="3" fill="#000"/>
<ellipse cx="1064.4" cy="968.8" rx="2.4" ry="3" fill="#000"/>
<ellipse cx="1070.4" cy="962.9" rx="2.4" ry="3" fill="#000"/>
<ellipse cx="1070.4" cy="972.2" rx="2.4" ry="3" fill="#000"/>
<ellipse cx="1076.4" cy="966.3" rx="2.4" ry="3" fill="#000"/>
<ellipse cx="1076.4" cy="975.6" rx="2.4" ry="3" fill="#000"/>
<ellipse cx="1085.7" cy="972.0" rx="2.4" ry="3" fill="#000"/>
<ellipse cx="1085.7" cy="981.3" rx="2.4" ry="3" fill="#000"/>
<ellipse cx="1091.7" cy="975.4" rx="2.4" ry="3" fill="#000"/>
<ellipse cx="1091.7" cy="984.7" rx="2.4" ry="3" fill="#000"/>
<ellipse cx="1097.7" cy="978.8" rx="2.4" ry="3" fill="#000"/>
<ellipse cx="1097.7" cy="988.1" rx="2.4" ry="3" fill="#000"/>
<ellipse cx="1149.6" cy="1009.0" rx="2.4" ry="3" fill="#000"/>
<ellipse cx="1149.6" cy="1018.3" rx="2.4" ry="3" fill="#000"/>
<ellipse cx="1155.6" cy="1012.4" rx="2.4" ry="3" fill="#000"/>
<ellipse cx="1155.6" cy="1021.7" rx="2.4" ry="3" fill="#000"/>
<ellipse cx="1161.6" cy="1015.8" rx="2.4" ry="3" fill="#000"/>
<ellipse cx="1161.6" cy="1025.1" rx="2.4" ry="3" fill="#000"/>
<ellipse cx="1170.9" cy="1021.5" rx="2.4" ry="3" fill="#000"/>
<ellipse cx="1170.9" cy="1030.8" rx="2.4" ry="3" fill="#000"/>
<ellipse cx="1176.9" cy="1024.9" rx="2.4" ry="3" fill="#000"/>
<ellipse cx="1176.9" cy="1034.2" rx="2.4" ry="3" fill="#000"/>
<ellipse cx="1182.9" cy="1028.3" rx="2.4" ry="3" fill="#000"/>
<ellipse cx="1182.9" cy="1037.6" rx="2.4" ry="3" fill="#000"/>
<ellipse cx="1204.0" cy="1042.0" rx="4" ry="10" fill="#000"/>
<line class="l1" x1="1194.0" y1="1032.0" x2="1203.0" y2="1034.0" />
<line class="l1" x1="1194.0" y1="1040.0" x2="1201.0" y2="1042.0" />
<line x1="1105.7" y1="935.7" x2="1095.3" y2="941.7" stroke="#000" stroke-width="5.0" stroke-linecap="round"/><ellipse cx="1106.2" cy="935.5" rx="2.6" ry="4.6" fill="#000" transform="rotate(150.0 1106.2 935.5)"/><line x1="1103.9" y1="938.4" x2="1101.8" y2="936.3" stroke="#fff" stroke-width="0.9"/><line x1="1102.1" y1="939.4" x2="1100.0" y2="937.4" stroke="#fff" stroke-width="0.9"/><line x1="1100.3" y1="940.5" x2="1098.2" y2="938.4" stroke="#fff" stroke-width="0.9"/><line x1="1098.5" y1="941.5" x2="1096.4" y2="939.5" stroke="#fff" stroke-width="0.9"/>
<line x1="1126.3" y1="948.9" x2="1115.9" y2="954.9" stroke="#000" stroke-width="5.0" stroke-linecap="round"/><ellipse cx="1126.8" cy="948.7" rx="2.6" ry="4.6" fill="#000" transform="rotate(150.0 1126.8 948.7)"/><line x1="1124.5" y1="951.6" x2="1122.4" y2="949.5" stroke="#fff" stroke-width="0.9"/><line x1="1122.7" y1="952.6" x2="1120.6" y2="950.6" stroke="#fff" stroke-width="0.9"/><line x1="1120.9" y1="953.7" x2="1118.8" y2="951.6" stroke="#fff" stroke-width="0.9"/><line x1="1119.1" y1="954.7" x2="1117.0" y2="952.7" stroke="#fff" stroke-width="0.9"/>
<line x1="1190.8" y1="985.2" x2="1180.4" y2="991.2" stroke="#000" stroke-width="5.0" stroke-linecap="round"/><ellipse cx="1191.3" cy="985.0" rx="2.6" ry="4.6" fill="#000" transform="rotate(150.0 1191.3 985.0)"/><line x1="1189.0" y1="987.9" x2="1186.9" y2="985.8" stroke="#fff" stroke-width="0.9"/><line x1="1187.2" y1="988.9" x2="1185.1" y2="986.9" stroke="#fff" stroke-width="0.9"/><line x1="1185.4" y1="990.0" x2="1183.3" y2="987.9" stroke="#fff" stroke-width="0.9"/><line x1="1183.6" y1="991.0" x2="1181.5" y2="989.0" stroke="#fff" stroke-width="0.9"/>
<line x1="1212.1" y1="997.7" x2="1201.7" y2="1003.7" stroke="#000" stroke-width="5.0" stroke-linecap="round"/><ellipse cx="1212.6" cy="997.5" rx="2.6" ry="4.6" fill="#000" transform="rotate(150.0 1212.6 997.5)"/><line x1="1210.3" y1="1000.4" x2="1208.2" y2="998.3" stroke="#fff" stroke-width="0.9"/><line x1="1208.5" y1="1001.4" x2="1206.4" y2="999.4" stroke="#fff" stroke-width="0.9"/><line x1="1206.7" y1="1002.5" x2="1204.6" y2="1000.4" stroke="#fff" stroke-width="0.9"/><line x1="1204.9" y1="1003.5" x2="1202.8" y2="1001.5" stroke="#fff" stroke-width="0.9"/>
<polygon class="f" points="1211.4,1196.9 1344.2,1272.1 1344.2,1300.9 1211.4,1225.5" />
<line class="l3" x1="1212.0" y1="1197.0" x2="1344.0" y2="1273.0" />
<ellipse cx="1215.5" cy="1205.7" rx="2.4" ry="3" fill="#000"/>
<ellipse cx="1215.5" cy="1214.8" rx="2.4" ry="3" fill="#000"/>
<ellipse cx="1221.7" cy="1209.2" rx="2.4" ry="3" fill="#000"/>
<ellipse cx="1221.7" cy="1218.3" rx="2.4" ry="3" fill="#000"/>
<ellipse cx="1227.9" cy="1212.7" rx="2.4" ry="3" fill="#000"/>
<ellipse cx="1227.9" cy="1221.8" rx="2.4" ry="3" fill="#000"/>
<ellipse cx="1236.7" cy="1218.2" rx="2.4" ry="3" fill="#000"/>
<ellipse cx="1236.7" cy="1227.2" rx="2.4" ry="3" fill="#000"/>
<ellipse cx="1242.9" cy="1221.7" rx="2.4" ry="3" fill="#000"/>
<ellipse cx="1242.9" cy="1230.7" rx="2.4" ry="3" fill="#000"/>
<ellipse cx="1249.1" cy="1225.2" rx="2.4" ry="3" fill="#000"/>
<ellipse cx="1249.1" cy="1234.2" rx="2.4" ry="3" fill="#000"/>
<ellipse cx="1301.0" cy="1255.2" rx="2.4" ry="3" fill="#000"/>
<ellipse cx="1301.0" cy="1264.2" rx="2.4" ry="3" fill="#000"/>
<ellipse cx="1307.2" cy="1258.7" rx="2.4" ry="3" fill="#000"/>
<ellipse cx="1307.2" cy="1267.7" rx="2.4" ry="3" fill="#000"/>
<ellipse cx="1313.4" cy="1262.2" rx="2.4" ry="3" fill="#000"/>
<ellipse cx="1313.4" cy="1271.2" rx="2.4" ry="3" fill="#000"/>
<ellipse cx="1322.3" cy="1267.1" rx="2.4" ry="3" fill="#000"/>
<ellipse cx="1322.3" cy="1276.6" rx="2.4" ry="3" fill="#000"/>
<ellipse cx="1328.5" cy="1270.6" rx="2.4" ry="3" fill="#000"/>
<ellipse cx="1328.5" cy="1280.1" rx="2.4" ry="3" fill="#000"/>
<ellipse cx="1334.7" cy="1274.1" rx="2.4" ry="3" fill="#000"/>
<ellipse cx="1334.7" cy="1283.6" rx="2.4" ry="3" fill="#000"/>
<polygon class="f" points="1141.3,1206.3 1142.0,1198.0 1146.0,1192.0 1153.0,1188.5 1160.0,1190.0 1333.0,1290.0 1338.0,1296.0 1338.0,1310.0 1331.0,1316.0 1326.0,1315.5 1141.9,1215.7" />
<line class="l3" x1="1164.5" y1="1195.7" x2="1333.0" y2="1292.5" />
<line class="l" x1="1145.0" y1="1197.5" x2="1327.0" y2="1301.0" />
<line class="l1" x1="1143.0" y1="1201.0" x2="1326.0" y2="1304.5" />
<line class="l" x1="1141.5" y1="1206.5" x2="1325.5" y2="1310.0" />
<line class="l1" x1="1142.0" y1="1210.0" x2="1326.0" y2="1313.0" />
<polyline class="l" points="1155.0,1188.5 1160.0,1185.5 1163.0,1186.0 1170.0,1189.0 1168.0,1192.0 1162.0,1192.0 1162.0,1196.0" />
<ellipse cx="1331.0" cy="1305.0" rx="4.5" ry="10" fill="#000"/>
<polyline class="l" points="1338.0,1300.0 1341.0,1302.0 1344.0,1300.0" />
<polygon class="f" points="1185.8,1230.1 1189.0,1229.0 1252.8,1265.8 1252.8,1275.2 1247.8,1277.7 1185.8,1241.4" />
<line class="l" x1="1247.8" y1="1268.0" x2="1247.8" y2="1277.7" />
<line x1="1141.4" y1="1248.3" x2="1151.8" y2="1242.3" stroke="#000" stroke-width="5.0" stroke-linecap="round"/><ellipse cx="1140.9" cy="1248.5" rx="2.6" ry="4.6" fill="#000" transform="rotate(-30.0 1140.9 1248.5)"/><line x1="1143.2" y1="1245.6" x2="1145.3" y2="1247.7" stroke="#fff" stroke-width="0.9"/><line x1="1145.0" y1="1244.6" x2="1147.1" y2="1246.6" stroke="#fff" stroke-width="0.9"/><line x1="1146.8" y1="1243.5" x2="1148.9" y2="1245.6" stroke="#fff" stroke-width="0.9"/><line x1="1148.6" y1="1242.5" x2="1150.7" y2="1244.5" stroke="#fff" stroke-width="0.9"/>
<line x1="1162.7" y1="1260.8" x2="1173.1" y2="1254.8" stroke="#000" stroke-width="5.0" stroke-linecap="round"/><ellipse cx="1162.2" cy="1261.0" rx="2.6" ry="4.6" fill="#000" transform="rotate(-30.0 1162.2 1261.0)"/><line x1="1164.5" y1="1258.1" x2="1166.6" y2="1260.2" stroke="#fff" stroke-width="0.9"/><line x1="1166.3" y1="1257.1" x2="1168.4" y2="1259.1" stroke="#fff" stroke-width="0.9"/><line x1="1168.1" y1="1256.0" x2="1170.2" y2="1258.1" stroke="#fff" stroke-width="0.9"/><line x1="1169.9" y1="1255.0" x2="1172.0" y2="1257.0" stroke="#fff" stroke-width="0.9"/>
<line x1="1227.2" y1="1297.8" x2="1237.6" y2="1291.8" stroke="#000" stroke-width="5.0" stroke-linecap="round"/><ellipse cx="1226.7" cy="1298.0" rx="2.6" ry="4.6" fill="#000" transform="rotate(-30.0 1226.7 1298.0)"/><line x1="1229.0" y1="1295.1" x2="1231.1" y2="1297.2" stroke="#fff" stroke-width="0.9"/><line x1="1230.8" y1="1294.1" x2="1232.9" y2="1296.1" stroke="#fff" stroke-width="0.9"/><line x1="1232.6" y1="1293.0" x2="1234.7" y2="1295.1" stroke="#fff" stroke-width="0.9"/><line x1="1234.4" y1="1292.0" x2="1236.5" y2="1294.0" stroke="#fff" stroke-width="0.9"/>
<line x1="1248.5" y1="1310.3" x2="1258.9" y2="1304.3" stroke="#000" stroke-width="5.0" stroke-linecap="round"/><ellipse cx="1248.0" cy="1310.5" rx="2.6" ry="4.6" fill="#000" transform="rotate(-30.0 1248.0 1310.5)"/><line x1="1250.3" y1="1307.6" x2="1252.4" y2="1309.7" stroke="#fff" stroke-width="0.9"/><line x1="1252.1" y1="1306.6" x2="1254.2" y2="1308.6" stroke="#fff" stroke-width="0.9"/><line x1="1253.9" y1="1305.5" x2="1256.0" y2="1307.6" stroke="#fff" stroke-width="0.9"/><line x1="1255.7" y1="1304.5" x2="1257.8" y2="1306.5" stroke="#fff" stroke-width="0.9"/>
<polygon class="f" points="1343.4,786.4 1476.2,861.6 1476.2,890.4 1343.4,815.0" />
<line class="l3" x1="1344.0" y1="786.5" x2="1476.0" y2="862.5" />
<ellipse cx="1347.5" cy="795.2" rx="2.4" ry="3" fill="#000"/>
<ellipse cx="1347.5" cy="804.3" rx="2.4" ry="3" fill="#000"/>
<ellipse cx="1353.7" cy="798.7" rx="2.4" ry="3" fill="#000"/>
<ellipse cx="1353.7" cy="807.8" rx="2.4" ry="3" fill="#000"/>
<ellipse cx="1359.9" cy="802.2" rx="2.4" ry="3" fill="#000"/>
<ellipse cx="1359.9" cy="811.3" rx="2.4" ry="3" fill="#000"/>
<ellipse cx="1368.7" cy="807.7" rx="2.4" ry="3" fill="#000"/>
<ellipse cx="1368.7" cy="816.7" rx="2.4" ry="3" fill="#000"/>
<ellipse cx="1374.9" cy="811.2" rx="2.4" ry="3" fill="#000"/>
<ellipse cx="1374.9" cy="820.2" rx="2.4" ry="3" fill="#000"/>
<ellipse cx="1381.1" cy="814.7" rx="2.4" ry="3" fill="#000"/>
<ellipse cx="1381.1" cy="823.7" rx="2.4" ry="3" fill="#000"/>
<ellipse cx="1433.0" cy="844.7" rx="2.4" ry="3" fill="#000"/>
<ellipse cx="1433.0" cy="853.7" rx="2.4" ry="3" fill="#000"/>
<ellipse cx="1439.2" cy="848.2" rx="2.4" ry="3" fill="#000"/>
<ellipse cx="1439.2" cy="857.2" rx="2.4" ry="3" fill="#000"/>
<ellipse cx="1445.4" cy="851.7" rx="2.4" ry="3" fill="#000"/>
<ellipse cx="1445.4" cy="860.7" rx="2.4" ry="3" fill="#000"/>
<ellipse cx="1454.3" cy="856.6" rx="2.4" ry="3" fill="#000"/>
<ellipse cx="1454.3" cy="866.1" rx="2.4" ry="3" fill="#000"/>
<ellipse cx="1460.5" cy="860.1" rx="2.4" ry="3" fill="#000"/>
<ellipse cx="1460.5" cy="869.6" rx="2.4" ry="3" fill="#000"/>
<ellipse cx="1466.7" cy="863.6" rx="2.4" ry="3" fill="#000"/>
<ellipse cx="1466.7" cy="873.1" rx="2.4" ry="3" fill="#000"/>
<polygon class="f" points="1273.3,795.8 1274.0,787.5 1278.0,781.5 1285.0,778.0 1292.0,779.5 1465.0,879.5 1470.0,885.5 1470.0,899.5 1463.0,905.5 1458.0,905.0 1273.9,805.2" />
<line class="l3" x1="1296.5" y1="785.2" x2="1465.0" y2="882.0" />
<line class="l" x1="1277.0" y1="787.0" x2="1459.0" y2="890.5" />
<line class="l1" x1="1275.0" y1="790.5" x2="1458.0" y2="894.0" />
<line class="l" x1="1273.5" y1="796.0" x2="1457.5" y2="899.5" />
<line class="l1" x1="1274.0" y1="799.5" x2="1458.0" y2="902.5" />
<polyline class="l" points="1287.0,778.0 1292.0,775.0 1295.0,775.5 1302.0,778.5 1300.0,781.5 1294.0,781.5 1294.0,785.5" />
<ellipse cx="1463.0" cy="894.5" rx="4.5" ry="10" fill="#000"/>
<polyline class="l" points="1470.0,889.5 1473.0,891.5 1476.0,889.5" />
<polygon class="f" points="1317.8,819.6 1321.0,818.5 1384.8,855.3 1384.8,864.7 1379.8,867.2 1317.8,830.9" />
<line class="l" x1="1379.8" y1="857.5" x2="1379.8" y2="867.2" />
<line x1="1273.4" y1="837.8" x2="1283.8" y2="831.8" stroke="#000" stroke-width="5.0" stroke-linecap="round"/><ellipse cx="1272.9" cy="838.0" rx="2.6" ry="4.6" fill="#000" transform="rotate(-30.0 1272.9 838.0)"/><line x1="1275.2" y1="835.1" x2="1277.3" y2="837.2" stroke="#fff" stroke-width="0.9"/><line x1="1277.0" y1="834.1" x2="1279.1" y2="836.1" stroke="#fff" stroke-width="0.9"/><line x1="1278.8" y1="833.0" x2="1280.9" y2="835.1" stroke="#fff" stroke-width="0.9"/><line x1="1280.6" y1="832.0" x2="1282.7" y2="834.0" stroke="#fff" stroke-width="0.9"/>
<line x1="1294.7" y1="850.3" x2="1305.1" y2="844.3" stroke="#000" stroke-width="5.0" stroke-linecap="round"/><ellipse cx="1294.2" cy="850.5" rx="2.6" ry="4.6" fill="#000" transform="rotate(-30.0 1294.2 850.5)"/><line x1="1296.5" y1="847.6" x2="1298.6" y2="849.7" stroke="#fff" stroke-width="0.9"/><line x1="1298.3" y1="846.6" x2="1300.4" y2="848.6" stroke="#fff" stroke-width="0.9"/><line x1="1300.1" y1="845.5" x2="1302.2" y2="847.6" stroke="#fff" stroke-width="0.9"/><line x1="1301.9" y1="844.5" x2="1304.0" y2="846.5" stroke="#fff" stroke-width="0.9"/>
<line x1="1359.2" y1="887.3" x2="1369.6" y2="881.3" stroke="#000" stroke-width="5.0" stroke-linecap="round"/><ellipse cx="1358.7" cy="887.5" rx="2.6" ry="4.6" fill="#000" transform="rotate(-30.0 1358.7 887.5)"/><line x1="1361.0" y1="884.6" x2="1363.1" y2="886.7" stroke="#fff" stroke-width="0.9"/><line x1="1362.8" y1="883.6" x2="1364.9" y2="885.6" stroke="#fff" stroke-width="0.9"/><line x1="1364.6" y1="882.5" x2="1366.7" y2="884.6" stroke="#fff" stroke-width="0.9"/><line x1="1366.4" y1="881.5" x2="1368.5" y2="883.5" stroke="#fff" stroke-width="0.9"/>
<line x1="1380.5" y1="899.8" x2="1390.9" y2="893.8" stroke="#000" stroke-width="5.0" stroke-linecap="round"/><ellipse cx="1380.0" cy="900.0" rx="2.6" ry="4.6" fill="#000" transform="rotate(-30.0 1380.0 900.0)"/><line x1="1382.3" y1="897.1" x2="1384.4" y2="899.2" stroke="#fff" stroke-width="0.9"/><line x1="1384.1" y1="896.1" x2="1386.2" y2="898.1" stroke="#fff" stroke-width="0.9"/><line x1="1385.9" y1="895.0" x2="1388.0" y2="897.1" stroke="#fff" stroke-width="0.9"/><line x1="1387.7" y1="894.0" x2="1389.8" y2="896.0" stroke="#fff" stroke-width="0.9"/>
<polyline class="ld" points="1111.0,1201.0 830.0,1360.0 1064.0,1496.0 1347.0,1338.0" />
<polygon class="f" points="1558.1,804.2 1567.5,797.9 1690.9,867.4 1679.6,873.7" />
<polygon class="f" points="1558.1,804.2 1679.6,873.7 1679.6,888.7 1558.1,819.2" />
<polygon class="f" points="1679.6,873.7 1690.9,867.4 1752.3,902.5 1739.1,908.1" />
<polygon class="f" points="1679.6,873.7 1739.1,908.1 1739.1,925.0 1679.6,890.5" />
<polygon class="f" points="1739.1,908.1 1752.3,902.5 1752.3,918.5 1739.1,925.0" />
<polygon class="f" points="1744.7,908.7 1752.2,913.0 1752.2,920.5 1744.7,916.3" style="stroke-width:1.8"/><ellipse class="f" cx="1744.7" cy="912.5" rx="3.2" ry="3.9" style="stroke-width:1.8"/><ellipse class="f" cx="1752.2" cy="916.7" rx="3.2" ry="3.9" style="stroke-width:1.8"/>
<polygon class="f" points="1572.5,901.9 1578.2,891.8 1752.9,992.1 1741.0,998.9" />
<polygon class="f" points="1572.5,901.9 1741.0,998.9 1736.5,1047.5 1567.5,952.5" />
<line class="l" x1="1570.7" y1="914.4" x2="1739.7" y2="1011.2" />
<line class="l1" x1="1571.2" y1="916.5" x2="1739.2" y2="1013.0" />
<polygon class="f" points="1741.0,998.9 1752.9,992.1 1753.4,1056.5 1738.4,1060.7" />
<polygon class="f" points="1746.2,1011.2 1753.7,1015.5 1753.7,1023.0 1746.2,1018.8" style="stroke-width:1.8"/><ellipse class="f" cx="1746.2" cy="1015.0" rx="3.2" ry="3.9" style="stroke-width:1.8"/><ellipse class="f" cx="1753.7" cy="1019.2" rx="3.2" ry="3.9" style="stroke-width:1.8"/>
<polygon class="f" points="1746.2,1036.2 1753.7,1040.5 1753.7,1048.0 1746.2,1043.8" style="stroke-width:1.8"/><ellipse class="f" cx="1746.2" cy="1040.0" rx="3.2" ry="3.9" style="stroke-width:1.8"/><ellipse class="f" cx="1753.7" cy="1044.2" rx="3.2" ry="3.9" style="stroke-width:1.8"/>
<circle cx="1745.7" cy="1053.5" r="1.5" fill="#000"/>
<polygon class="f" points="1550.6,815.4 1555.0,812.9 1570.7,817.9 1562.5,822.3" />
<polygon class="f" points="1562.5,822.3 1570.7,817.9 1570.7,825.5 1577.8,829.8 1577.8,897.5 1571.9,901.5 1568.1,952.5 1562.5,957.0" />
<polygon class="f" points="1550.6,815.4 1562.5,822.3 1562.5,957.0 1550.6,949.5" />
<circle cx="1556.2" cy="831.7" r="1.8" fill="#000"/>
<circle cx="1556.2" cy="881.2" r="1.8" fill="#000"/>
<polygon class="f" points="1336.2,1024.5 1550.6,901.9 1562.5,908.5 1562.5,957.0 1372.6,1068.8 1336.2,1048.5" />
<line class="l" x1="1336.2" y1="1037.2" x2="1562.5" y2="908.5" />
<polygon class="f" points="1372.6,1068.8 1562.5,957.0 1733.4,1054.5 1501.9,1186.9 1403.7,1148.5" />
<line class="l3" x1="1563.2" y1="958.0" x2="1733.4" y2="1055.3" />
<polygon class="f" points="1501.9,1186.9 1736.5,1051.3 1736.5,1066.3 1500.7,1201.3" />
<ellipse class="f" cx="1611.7" cy="1142.5" rx="4.5" ry="5.0" />
<ellipse class="f" cx="1632.2" cy="1130.0" rx="4.5" ry="5.0" />
<line class="l" x1="1613.7" y1="1138.5" x2="1629.7" y2="1132.5" />
<polygon class="f" points="1302.7,1044.4 1314.7,1037.5 1496.0,1140.2 1484.1,1147.1" />
<polygon class="f" points="1484.1,1147.1 1495.0,1140.5 1496.7,1148.5 1497.7,1202.5 1483.1,1210.0" />
<polygon class="f" points="1302.7,1044.4 1484.1,1147.1 1484.1,1210.0 1302.7,1106.5" />
<polygon class="f" points="1422.5,1133.5 1471.2,1161.0 1471.2,1179.8 1422.5,1152.2" style="stroke-width:2.5"/>
<polygon class="f" points="1425.2,1138.0 1467.7,1162.0 1467.7,1168.5 1425.2,1144.5" />
<polygon class="k" points="1425.2,1144.5 1465.7,1167.5 1465.7,1176.5 1425.2,1153.5" />
<polygon class="f" points="1491.2,1157.4 1498.7,1161.7 1498.7,1169.2 1491.2,1165.0" style="stroke-width:1.8"/><ellipse class="f" cx="1491.2" cy="1161.2" rx="3.2" ry="3.9" style="stroke-width:1.8"/><ellipse class="f" cx="1498.7" cy="1165.4" rx="3.2" ry="3.9" style="stroke-width:1.8"/>
<polygon class="f" points="1491.2,1182.5 1498.7,1186.8 1498.7,1194.3 1491.2,1190.1" style="stroke-width:1.8"/><ellipse class="f" cx="1491.2" cy="1186.3" rx="3.2" ry="3.9" style="stroke-width:1.8"/><ellipse class="f" cx="1498.7" cy="1190.5" rx="3.2" ry="3.9" style="stroke-width:1.8"/>
<circle cx="1489.7" cy="1201.5" r="1.5" fill="#000"/>
<polygon class="f" points="1320.6,971.5 1336.3,978.5 1336.3,1046.9 1327.7,1043.5 1320.6,1046.3" />
<polygon class="f" points="1308.5,969.2 1320.6,971.5 1320.6,1046.3 1308.5,1040.5" />
<ellipse class="f" cx="1314.4" cy="1021.2" rx="3.5" ry="5.0" />
<ellipse class="f" cx="1314.4" cy="974.0" rx="3.5" ry="4.5" />
<polygon class="f" points="1321.7,948.5 1335.7,955.5 1335.7,960.5 1321.7,953.5" />
<polygon class="f" points="1303.1,951.0 1313.1,944.8 1436.5,1014.9 1424.6,1021.2" />
<polygon class="f" points="1303.1,951.0 1424.6,1021.2 1424.6,1034.3 1303.1,965.5" />
<polygon class="f" points="1424.6,1021.2 1433.7,1014.5 1496.6,1049.4 1484.7,1057.5" />
<polygon class="f" points="1424.6,1021.2 1484.7,1057.5 1484.7,1072.5 1424.6,1038.1" />
<polygon class="f" points="1484.7,1057.5 1496.6,1049.4 1496.6,1065.5 1484.7,1072.5" />
<polygon class="f" points="1491.2,1058.2 1498.7,1062.5 1498.7,1070.0 1491.2,1065.8" style="stroke-width:1.8"/><ellipse class="f" cx="1491.2" cy="1062.0" rx="3.2" ry="3.9" style="stroke-width:1.8"/><ellipse class="f" cx="1498.7" cy="1066.2" rx="3.2" ry="3.9" style="stroke-width:1.8"/>
<polygon class="f" points="1740.3,946.7 1789.7,974.3 1789.7,993.7 1740.3,965.5" style="stroke-width:3"/>
<polygon class="l" points="1743.7,951.5 1785.7,975.5 1785.7,988.5 1743.7,964.5" />
<polygon class="f" points="1361.2,1167.2 1410.7,1194.8 1410.7,1214.8 1361.2,1186.0" />
<line class="l" x1="1362.7" y1="1172.5" x2="1408.7" y2="1198.5" />
<polygon class="f" points="1454.4,1295.7 1463.8,1289.4 1587.2,1358.9 1575.9,1365.2" />
<polygon class="f" points="1454.4,1295.7 1575.9,1365.2 1575.9,1380.2 1454.4,1310.7" />
<polygon class="f" points="1575.9,1365.2 1587.2,1358.9 1648.6,1394.0 1635.4,1399.6" />
<polygon class="f" points="1575.9,1365.2 1635.4,1399.6 1635.4,1416.5 1575.9,1382.0" />
<polygon class="f" points="1635.4,1399.6 1648.6,1394.0 1648.6,1410.0 1635.4,1416.5" />
<polygon class="f" points="1641.0,1400.2 1648.5,1404.5 1648.5,1412.0 1641.0,1407.8" style="stroke-width:1.8"/><ellipse class="f" cx="1641.0" cy="1404.0" rx="3.2" ry="3.9" style="stroke-width:1.8"/><ellipse class="f" cx="1648.5" cy="1408.2" rx="3.2" ry="3.9" style="stroke-width:1.8"/>
<polygon class="f" points="1468.8,1393.4 1474.5,1383.3 1649.2,1483.6 1637.3,1490.4" />
<polygon class="f" points="1468.8,1393.4 1637.3,1490.4 1632.8,1539.0 1463.8,1444.0" />
<line class="l" x1="1467.0" y1="1405.9" x2="1636.0" y2="1502.7" />
<line class="l1" x1="1467.5" y1="1408.0" x2="1635.5" y2="1504.5" />
<polygon class="f" points="1637.3,1490.4 1649.2,1483.6 1649.7,1548.0 1634.7,1552.2" />
<polygon class="f" points="1642.5,1502.7 1650.0,1507.0 1650.0,1514.5 1642.5,1510.3" style="stroke-width:1.8"/><ellipse class="f" cx="1642.5" cy="1506.5" rx="3.2" ry="3.9" style="stroke-width:1.8"/><ellipse class="f" cx="1650.0" cy="1510.7" rx="3.2" ry="3.9" style="stroke-width:1.8"/>
<polygon class="f" points="1642.5,1527.7 1650.0,1532.0 1650.0,1539.5 1642.5,1535.3" style="stroke-width:1.8"/><ellipse class="f" cx="1642.5" cy="1531.5" rx="3.2" ry="3.9" style="stroke-width:1.8"/><ellipse class="f" cx="1650.0" cy="1535.7" rx="3.2" ry="3.9" style="stroke-width:1.8"/>
<circle cx="1642.0" cy="1545.0" r="1.5" fill="#000"/>
<polygon class="f" points="1446.9,1306.9 1451.3,1304.4 1467.0,1309.4 1458.8,1313.8" />
<polygon class="f" points="1458.8,1313.8 1467.0,1309.4 1467.0,1317.0 1474.1,1321.3 1474.1,1389.0 1468.2,1393.0 1464.4,1444.0 1458.8,1448.5" />
<polygon class="f" points="1446.9,1306.9 1458.8,1313.8 1458.8,1448.5 1446.9,1441.0" />
<circle cx="1452.5" cy="1323.2" r="1.8" fill="#000"/>
<circle cx="1452.5" cy="1372.7" r="1.8" fill="#000"/>
<polygon class="f" points="1232.5,1516.0 1446.9,1393.4 1458.8,1400.0 1458.8,1448.5 1268.9,1560.3 1232.5,1540.0" />
<line class="l" x1="1232.5" y1="1528.8" x2="1458.8" y2="1400.0" />
<polygon class="f" points="1268.9,1560.3 1458.8,1448.5 1629.7,1546.0 1398.2,1678.4 1300.0,1640.0" />
<line class="l3" x1="1459.5" y1="1449.5" x2="1629.7" y2="1546.8" />
<polygon class="f" points="1398.2,1678.4 1632.8,1542.8 1632.8,1557.8 1397.0,1692.8" />
<ellipse class="f" cx="1508.0" cy="1634.0" rx="4.5" ry="5.0" />
<ellipse class="f" cx="1528.5" cy="1621.5" rx="4.5" ry="5.0" />
<line class="l" x1="1510.0" y1="1630.0" x2="1526.0" y2="1624.0" />
<polygon class="f" points="1199.0,1535.9 1211.0,1529.0 1392.3,1631.7 1380.4,1638.6" />
<polygon class="f" points="1380.4,1638.6 1391.3,1632.0 1393.0,1640.0 1394.0,1694.0 1379.4,1701.5" />
<polygon class="f" points="1199.0,1535.9 1380.4,1638.6 1380.4,1701.5 1199.0,1598.0" />
<polygon class="f" points="1318.8,1625.0 1367.5,1652.5 1367.5,1671.2 1318.8,1643.8" style="stroke-width:2.5"/>
<polygon class="f" points="1321.5,1629.5 1364.0,1653.5 1364.0,1660.0 1321.5,1636.0" />
<polygon class="k" points="1321.5,1636.0 1362.0,1659.0 1362.0,1668.0 1321.5,1645.0" />
<polygon class="f" points="1387.5,1648.9 1395.0,1653.2 1395.0,1660.7 1387.5,1656.5" style="stroke-width:1.8"/><ellipse class="f" cx="1387.5" cy="1652.7" rx="3.2" ry="3.9" style="stroke-width:1.8"/><ellipse class="f" cx="1395.0" cy="1656.9" rx="3.2" ry="3.9" style="stroke-width:1.8"/>
<polygon class="f" points="1387.5,1674.0 1395.0,1678.3 1395.0,1685.8 1387.5,1681.6" style="stroke-width:1.8"/><ellipse class="f" cx="1387.5" cy="1677.8" rx="3.2" ry="3.9" style="stroke-width:1.8"/><ellipse class="f" cx="1395.0" cy="1682.0" rx="3.2" ry="3.9" style="stroke-width:1.8"/>
<circle cx="1386.0" cy="1693.0" r="1.5" fill="#000"/>
<polygon class="f" points="1216.9,1463.0 1232.6,1470.0 1232.6,1538.4 1224.0,1535.0 1216.9,1537.8" />
<polygon class="f" points="1204.8,1460.7 1216.9,1463.0 1216.9,1537.8 1204.8,1532.0" />
<ellipse class="f" cx="1210.7" cy="1512.7" rx="3.5" ry="5.0" />
<ellipse class="f" cx="1210.7" cy="1465.5" rx="3.5" ry="4.5" />
<polygon class="f" points="1218.0,1440.0 1232.0,1447.0 1232.0,1452.0 1218.0,1445.0" />
<polygon class="f" points="1199.4,1442.5 1209.4,1436.3 1332.8,1506.4 1320.9,1512.7" />
<polygon class="f" points="1199.4,1442.5 1320.9,1512.7 1320.9,1525.8 1199.4,1457.0" />
<polygon class="f" points="1320.9,1512.7 1330.0,1506.0 1392.9,1540.9 1381.0,1549.0" />
<polygon class="f" points="1320.9,1512.7 1381.0,1549.0 1381.0,1564.0 1320.9,1529.6" />
<polygon class="f" points="1381.0,1549.0 1392.9,1540.9 1392.9,1557.0 1381.0,1564.0" />
<polygon class="f" points="1387.5,1549.7 1395.0,1554.0 1395.0,1561.5 1387.5,1557.3" style="stroke-width:1.8"/><ellipse class="f" cx="1387.5" cy="1553.5" rx="3.2" ry="3.9" style="stroke-width:1.8"/><ellipse class="f" cx="1395.0" cy="1557.7" rx="3.2" ry="3.9" style="stroke-width:1.8"/>
<polygon class="f" points="1636.6,1438.2 1686.0,1465.8 1686.0,1485.2 1636.6,1457.0" style="stroke-width:3"/>
<polygon class="l" points="1640.0,1443.0 1682.0,1467.0 1682.0,1480.0 1640.0,1456.0" />
<polygon class="f" points="1257.5,1658.8 1307.0,1686.2 1307.0,1706.2 1257.5,1677.5" />
<line class="l" x1="1259.0" y1="1664.0" x2="1305.0" y2="1690.0" />
<polygon class="f" points="1638.8,1678.8 1628.8,1672.8 1949.5,1489.5 1959.5,1495.5" /><polygon class="f" points="1638.8,1678.8 1628.8,1672.8 1628.8,1901.0 1638.8,1907.0" /><polygon class="f" points="1638.8,1678.8 1959.5,1495.5 1959.5,1722.5 1638.8,1907.0" /><line class="l3" x1="1638.8" y1="1678.8" x2="1959.5" y2="1495.5" />
<polygon class="f" points="1727.2,1179.8 1717.2,1173.8 2038.0,990.5 2048.0,996.5" /><polygon class="f" points="1727.2,1179.8 1717.2,1173.8 1717.2,1402.0 1727.2,1408.0" /><polygon class="f" points="1727.2,1179.8 2048.0,996.5 2048.0,1223.5 1727.2,1408.0" /><line class="l3" x1="1727.2" y1="1179.8" x2="2048.0" y2="996.5" />
<line x1="1612.5" y1="1666.0" x2="1619.5" y2="1670.0" stroke="#000" stroke-width="4.5" stroke-linecap="round"/><circle cx="1612.5" cy="1666.0" r="4.2" fill="#000"/><circle cx="1612.0" cy="1665.5" r="1.6" fill="#fff"/>
<line x1="1701.0" y1="1167.0" x2="1708.0" y2="1171.0" stroke="#000" stroke-width="4.5" stroke-linecap="round"/><circle cx="1701.0" cy="1167.0" r="4.2" fill="#000"/><circle cx="1700.5" cy="1166.5" r="1.6" fill="#fff"/>
<line x1="1612.5" y1="1862.5" x2="1619.5" y2="1866.5" stroke="#000" stroke-width="4.5" stroke-linecap="round"/><circle cx="1612.5" cy="1862.5" r="4.2" fill="#000"/><circle cx="1612.0" cy="1862.0" r="1.6" fill="#fff"/>
<line x1="1701.0" y1="1363.5" x2="1708.0" y2="1367.5" stroke="#000" stroke-width="4.5" stroke-linecap="round"/><circle cx="1701.0" cy="1363.5" r="4.2" fill="#000"/><circle cx="1700.5" cy="1363.0" r="1.6" fill="#fff"/>
<line x1="1908.0" y1="1495.5" x2="1915.0" y2="1499.5" stroke="#000" stroke-width="4.5" stroke-linecap="round"/><circle cx="1908.0" cy="1495.5" r="4.2" fill="#000"/><circle cx="1907.5" cy="1495.0" r="1.6" fill="#fff"/>
<line x1="1996.5" y1="996.5" x2="2003.5" y2="1000.5" stroke="#000" stroke-width="4.5" stroke-linecap="round"/><circle cx="1996.5" cy="996.5" r="4.2" fill="#000"/><circle cx="1996.0" cy="996.0" r="1.6" fill="#fff"/>
<polyline class="ld" points="1945.0,1468.0 1978.0,1468.0 1978.0,1749.0 1945.0,1749.0" />
<line class="ld" x1="1978.0" y1="1609.2" x2="1993.8" y2="1609.2" />
<line class="ld" x1="933.8" y1="957.5" x2="980.0" y2="1040.0" />
<line class="ld" x1="1273.8" y1="1695.0" x2="1253.8" y2="1730.0" />
<line class="ld" x1="1662.0" y1="847.5" x2="1680.5" y2="814.0" />
<line class="ld" x1="924.5" y1="1442.2" x2="947.0" y2="1429.0" />
<line class="ld" x1="267.5" y1="1287.5" x2="291.5" y2="1247.0" />
<line class="ld" x1="555.1" y1="1141.5" x2="578.4" y2="1100.9" />
<line class="ld" x1="695.0" y1="621.0" x2="729.0" y2="621.0" />
<path d="M 2010.2 1588.2 h 4.7 v 34.5 h -4.7 V 1597.0 Q 2006.4 1599.7 2000.9 1601.4 v -3.8 Q 2006.9 1594.7 2009.4 1588.2 Z" fill="#000"/>
<path d="M 371.8 163.5 h 4.7 v 34.5 h -4.7 V 172.3 Q 368.0 175.0 362.5 176.7 v -3.8 Q 368.5 170.0 371.0 163.5 Z" fill="#000"/>
<path d="M 398.7 163.5 h 4.7 v 34.5 h -4.7 V 172.3 Q 394.9 175.0 389.4 176.7 v -3.8 Q 395.4 170.0 397.9 163.5 Z" fill="#000"/>
<path d="M 304.5 366.7 h 4.7 v 34.5 h -4.7 V 375.5 Q 300.7 378.2 295.2 379.9 v -3.8 Q 301.2 373.2 303.7 366.7 Z" fill="#000"/>
<text transform="translate(327.1 401.5) scale(1.0 0.97)" text-anchor="middle">0</text>
<text transform="translate(248.5 657.0) scale(0.95 1)" text-anchor="middle">9</text>
<text transform="translate(676.0 637.0) scale(0.95 1)" text-anchor="middle">8</text>
<text transform="translate(991.0 1086.0) scale(0.95 1)" text-anchor="middle">7</text>
<text transform="translate(536.5 1181.0) scale(0.95 1)" text-anchor="middle">6</text>
<text transform="translate(253.0 1330.0) scale(0.95 1)" text-anchor="middle">5</text>
<text transform="translate(905.0 1471.0) scale(0.95 1)" text-anchor="middle">4</text>
<text transform="translate(1243.0 1766.5) scale(0.95 1)" text-anchor="middle">3</text>
<text transform="translate(1695.0 806.0) scale(0.95 1)" text-anchor="middle">2</text>
</svg></body></html>
